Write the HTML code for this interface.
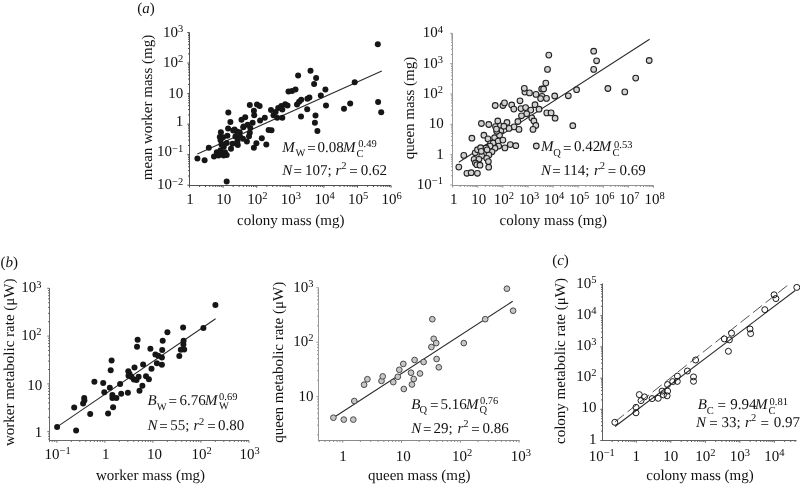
<!DOCTYPE html><html><head><meta charset="utf-8"><style>html,body{margin:0;padding:0;background:#fff;width:800px;height:484px;overflow:hidden}svg{display:block;filter:blur(0.3px)}</style></head><body><svg width="800" height="484" viewBox="0 0 800 484" style="font-family:'Liberation Serif',serif" text-rendering="geometricPrecision" fill="#111">
<rect width="800" height="484" fill="#fff"/>
<line x1="189.5" y1="185.5" x2="189.5" y2="32.5" stroke="#505050" stroke-width="1"/>
<line x1="189.0" y1="185.5" x2="391" y2="185.5" stroke="#505050" stroke-width="1"/>
<line x1="187.30" y1="185.20" x2="189.5" y2="185.20" stroke="#505050" stroke-width="1"/>
<line x1="188.00" y1="176.01" x2="189.5" y2="176.01" stroke="#505050" stroke-width="1"/>
<line x1="188.00" y1="170.63" x2="189.5" y2="170.63" stroke="#505050" stroke-width="1"/>
<line x1="188.00" y1="166.81" x2="189.5" y2="166.81" stroke="#505050" stroke-width="1"/>
<line x1="188.00" y1="163.85" x2="189.5" y2="163.85" stroke="#505050" stroke-width="1"/>
<line x1="188.00" y1="161.44" x2="189.5" y2="161.44" stroke="#505050" stroke-width="1"/>
<line x1="188.00" y1="159.39" x2="189.5" y2="159.39" stroke="#505050" stroke-width="1"/>
<line x1="188.00" y1="157.62" x2="189.5" y2="157.62" stroke="#505050" stroke-width="1"/>
<line x1="188.00" y1="156.06" x2="189.5" y2="156.06" stroke="#505050" stroke-width="1"/>
<line x1="187.30" y1="154.66" x2="189.5" y2="154.66" stroke="#505050" stroke-width="1"/>
<line x1="188.00" y1="145.47" x2="189.5" y2="145.47" stroke="#505050" stroke-width="1"/>
<line x1="188.00" y1="140.09" x2="189.5" y2="140.09" stroke="#505050" stroke-width="1"/>
<line x1="188.00" y1="136.27" x2="189.5" y2="136.27" stroke="#505050" stroke-width="1"/>
<line x1="188.00" y1="133.31" x2="189.5" y2="133.31" stroke="#505050" stroke-width="1"/>
<line x1="188.00" y1="130.90" x2="189.5" y2="130.90" stroke="#505050" stroke-width="1"/>
<line x1="188.00" y1="128.85" x2="189.5" y2="128.85" stroke="#505050" stroke-width="1"/>
<line x1="188.00" y1="127.08" x2="189.5" y2="127.08" stroke="#505050" stroke-width="1"/>
<line x1="188.00" y1="125.52" x2="189.5" y2="125.52" stroke="#505050" stroke-width="1"/>
<line x1="187.30" y1="124.12" x2="189.5" y2="124.12" stroke="#505050" stroke-width="1"/>
<line x1="188.00" y1="114.93" x2="189.5" y2="114.93" stroke="#505050" stroke-width="1"/>
<line x1="188.00" y1="109.55" x2="189.5" y2="109.55" stroke="#505050" stroke-width="1"/>
<line x1="188.00" y1="105.73" x2="189.5" y2="105.73" stroke="#505050" stroke-width="1"/>
<line x1="188.00" y1="102.77" x2="189.5" y2="102.77" stroke="#505050" stroke-width="1"/>
<line x1="188.00" y1="100.36" x2="189.5" y2="100.36" stroke="#505050" stroke-width="1"/>
<line x1="188.00" y1="98.31" x2="189.5" y2="98.31" stroke="#505050" stroke-width="1"/>
<line x1="188.00" y1="96.54" x2="189.5" y2="96.54" stroke="#505050" stroke-width="1"/>
<line x1="188.00" y1="94.98" x2="189.5" y2="94.98" stroke="#505050" stroke-width="1"/>
<line x1="187.30" y1="93.58" x2="189.5" y2="93.58" stroke="#505050" stroke-width="1"/>
<line x1="188.00" y1="84.39" x2="189.5" y2="84.39" stroke="#505050" stroke-width="1"/>
<line x1="188.00" y1="79.01" x2="189.5" y2="79.01" stroke="#505050" stroke-width="1"/>
<line x1="188.00" y1="75.19" x2="189.5" y2="75.19" stroke="#505050" stroke-width="1"/>
<line x1="188.00" y1="72.23" x2="189.5" y2="72.23" stroke="#505050" stroke-width="1"/>
<line x1="188.00" y1="69.82" x2="189.5" y2="69.82" stroke="#505050" stroke-width="1"/>
<line x1="188.00" y1="67.77" x2="189.5" y2="67.77" stroke="#505050" stroke-width="1"/>
<line x1="188.00" y1="66.00" x2="189.5" y2="66.00" stroke="#505050" stroke-width="1"/>
<line x1="188.00" y1="64.44" x2="189.5" y2="64.44" stroke="#505050" stroke-width="1"/>
<line x1="187.30" y1="63.04" x2="189.5" y2="63.04" stroke="#505050" stroke-width="1"/>
<line x1="188.00" y1="53.85" x2="189.5" y2="53.85" stroke="#505050" stroke-width="1"/>
<line x1="188.00" y1="48.47" x2="189.5" y2="48.47" stroke="#505050" stroke-width="1"/>
<line x1="188.00" y1="44.65" x2="189.5" y2="44.65" stroke="#505050" stroke-width="1"/>
<line x1="188.00" y1="41.69" x2="189.5" y2="41.69" stroke="#505050" stroke-width="1"/>
<line x1="188.00" y1="39.28" x2="189.5" y2="39.28" stroke="#505050" stroke-width="1"/>
<line x1="188.00" y1="37.23" x2="189.5" y2="37.23" stroke="#505050" stroke-width="1"/>
<line x1="188.00" y1="35.46" x2="189.5" y2="35.46" stroke="#505050" stroke-width="1"/>
<line x1="188.00" y1="33.90" x2="189.5" y2="33.90" stroke="#505050" stroke-width="1"/>
<line x1="187.30" y1="32.50" x2="189.5" y2="32.50" stroke="#505050" stroke-width="1"/>
<line x1="189.50" y1="185.5" x2="189.50" y2="187.70" stroke="#505050" stroke-width="1"/>
<line x1="199.61" y1="185.5" x2="199.61" y2="187.00" stroke="#505050" stroke-width="1"/>
<line x1="205.53" y1="185.5" x2="205.53" y2="187.00" stroke="#505050" stroke-width="1"/>
<line x1="209.73" y1="185.5" x2="209.73" y2="187.00" stroke="#505050" stroke-width="1"/>
<line x1="212.99" y1="185.5" x2="212.99" y2="187.00" stroke="#505050" stroke-width="1"/>
<line x1="215.65" y1="185.5" x2="215.65" y2="187.00" stroke="#505050" stroke-width="1"/>
<line x1="217.90" y1="185.5" x2="217.90" y2="187.00" stroke="#505050" stroke-width="1"/>
<line x1="219.84" y1="185.5" x2="219.84" y2="187.00" stroke="#505050" stroke-width="1"/>
<line x1="221.56" y1="185.5" x2="221.56" y2="187.00" stroke="#505050" stroke-width="1"/>
<line x1="223.10" y1="185.5" x2="223.10" y2="187.70" stroke="#505050" stroke-width="1"/>
<line x1="233.21" y1="185.5" x2="233.21" y2="187.00" stroke="#505050" stroke-width="1"/>
<line x1="239.13" y1="185.5" x2="239.13" y2="187.00" stroke="#505050" stroke-width="1"/>
<line x1="243.33" y1="185.5" x2="243.33" y2="187.00" stroke="#505050" stroke-width="1"/>
<line x1="246.59" y1="185.5" x2="246.59" y2="187.00" stroke="#505050" stroke-width="1"/>
<line x1="249.25" y1="185.5" x2="249.25" y2="187.00" stroke="#505050" stroke-width="1"/>
<line x1="251.50" y1="185.5" x2="251.50" y2="187.00" stroke="#505050" stroke-width="1"/>
<line x1="253.44" y1="185.5" x2="253.44" y2="187.00" stroke="#505050" stroke-width="1"/>
<line x1="255.16" y1="185.5" x2="255.16" y2="187.00" stroke="#505050" stroke-width="1"/>
<line x1="256.70" y1="185.5" x2="256.70" y2="187.70" stroke="#505050" stroke-width="1"/>
<line x1="266.81" y1="185.5" x2="266.81" y2="187.00" stroke="#505050" stroke-width="1"/>
<line x1="272.73" y1="185.5" x2="272.73" y2="187.00" stroke="#505050" stroke-width="1"/>
<line x1="276.93" y1="185.5" x2="276.93" y2="187.00" stroke="#505050" stroke-width="1"/>
<line x1="280.19" y1="185.5" x2="280.19" y2="187.00" stroke="#505050" stroke-width="1"/>
<line x1="282.85" y1="185.5" x2="282.85" y2="187.00" stroke="#505050" stroke-width="1"/>
<line x1="285.10" y1="185.5" x2="285.10" y2="187.00" stroke="#505050" stroke-width="1"/>
<line x1="287.04" y1="185.5" x2="287.04" y2="187.00" stroke="#505050" stroke-width="1"/>
<line x1="288.76" y1="185.5" x2="288.76" y2="187.00" stroke="#505050" stroke-width="1"/>
<line x1="290.30" y1="185.5" x2="290.30" y2="187.70" stroke="#505050" stroke-width="1"/>
<line x1="300.41" y1="185.5" x2="300.41" y2="187.00" stroke="#505050" stroke-width="1"/>
<line x1="306.33" y1="185.5" x2="306.33" y2="187.00" stroke="#505050" stroke-width="1"/>
<line x1="310.53" y1="185.5" x2="310.53" y2="187.00" stroke="#505050" stroke-width="1"/>
<line x1="313.79" y1="185.5" x2="313.79" y2="187.00" stroke="#505050" stroke-width="1"/>
<line x1="316.45" y1="185.5" x2="316.45" y2="187.00" stroke="#505050" stroke-width="1"/>
<line x1="318.70" y1="185.5" x2="318.70" y2="187.00" stroke="#505050" stroke-width="1"/>
<line x1="320.64" y1="185.5" x2="320.64" y2="187.00" stroke="#505050" stroke-width="1"/>
<line x1="322.36" y1="185.5" x2="322.36" y2="187.00" stroke="#505050" stroke-width="1"/>
<line x1="323.90" y1="185.5" x2="323.90" y2="187.70" stroke="#505050" stroke-width="1"/>
<line x1="334.01" y1="185.5" x2="334.01" y2="187.00" stroke="#505050" stroke-width="1"/>
<line x1="339.93" y1="185.5" x2="339.93" y2="187.00" stroke="#505050" stroke-width="1"/>
<line x1="344.13" y1="185.5" x2="344.13" y2="187.00" stroke="#505050" stroke-width="1"/>
<line x1="347.39" y1="185.5" x2="347.39" y2="187.00" stroke="#505050" stroke-width="1"/>
<line x1="350.05" y1="185.5" x2="350.05" y2="187.00" stroke="#505050" stroke-width="1"/>
<line x1="352.30" y1="185.5" x2="352.30" y2="187.00" stroke="#505050" stroke-width="1"/>
<line x1="354.24" y1="185.5" x2="354.24" y2="187.00" stroke="#505050" stroke-width="1"/>
<line x1="355.96" y1="185.5" x2="355.96" y2="187.00" stroke="#505050" stroke-width="1"/>
<line x1="357.50" y1="185.5" x2="357.50" y2="187.70" stroke="#505050" stroke-width="1"/>
<line x1="367.61" y1="185.5" x2="367.61" y2="187.00" stroke="#505050" stroke-width="1"/>
<line x1="373.53" y1="185.5" x2="373.53" y2="187.00" stroke="#505050" stroke-width="1"/>
<line x1="377.73" y1="185.5" x2="377.73" y2="187.00" stroke="#505050" stroke-width="1"/>
<line x1="380.99" y1="185.5" x2="380.99" y2="187.00" stroke="#505050" stroke-width="1"/>
<line x1="383.65" y1="185.5" x2="383.65" y2="187.00" stroke="#505050" stroke-width="1"/>
<line x1="385.90" y1="185.5" x2="385.90" y2="187.00" stroke="#505050" stroke-width="1"/>
<line x1="387.84" y1="185.5" x2="387.84" y2="187.00" stroke="#505050" stroke-width="1"/>
<line x1="389.56" y1="185.5" x2="389.56" y2="187.00" stroke="#505050" stroke-width="1"/>
<line x1="391.10" y1="185.5" x2="391.10" y2="187.70" stroke="#505050" stroke-width="1"/>
<line x1="452.5" y1="185.5" x2="452.5" y2="33.3" stroke="#999999" stroke-width="1"/>
<line x1="452.0" y1="185.5" x2="653.5" y2="185.5" stroke="#939393" stroke-width="1"/>
<line x1="450.30" y1="185.00" x2="452.5" y2="185.00" stroke="#999999" stroke-width="1"/>
<line x1="451.00" y1="175.87" x2="452.5" y2="175.87" stroke="#999999" stroke-width="1"/>
<line x1="451.00" y1="170.52" x2="452.5" y2="170.52" stroke="#999999" stroke-width="1"/>
<line x1="451.00" y1="166.73" x2="452.5" y2="166.73" stroke="#999999" stroke-width="1"/>
<line x1="451.00" y1="163.79" x2="452.5" y2="163.79" stroke="#999999" stroke-width="1"/>
<line x1="451.00" y1="161.39" x2="452.5" y2="161.39" stroke="#999999" stroke-width="1"/>
<line x1="451.00" y1="159.36" x2="452.5" y2="159.36" stroke="#999999" stroke-width="1"/>
<line x1="451.00" y1="157.60" x2="452.5" y2="157.60" stroke="#999999" stroke-width="1"/>
<line x1="451.00" y1="156.05" x2="452.5" y2="156.05" stroke="#999999" stroke-width="1"/>
<line x1="450.30" y1="154.66" x2="452.5" y2="154.66" stroke="#999999" stroke-width="1"/>
<line x1="451.00" y1="145.53" x2="452.5" y2="145.53" stroke="#999999" stroke-width="1"/>
<line x1="451.00" y1="140.18" x2="452.5" y2="140.18" stroke="#999999" stroke-width="1"/>
<line x1="451.00" y1="136.39" x2="452.5" y2="136.39" stroke="#999999" stroke-width="1"/>
<line x1="451.00" y1="133.45" x2="452.5" y2="133.45" stroke="#999999" stroke-width="1"/>
<line x1="451.00" y1="131.05" x2="452.5" y2="131.05" stroke="#999999" stroke-width="1"/>
<line x1="451.00" y1="129.02" x2="452.5" y2="129.02" stroke="#999999" stroke-width="1"/>
<line x1="451.00" y1="127.26" x2="452.5" y2="127.26" stroke="#999999" stroke-width="1"/>
<line x1="451.00" y1="125.71" x2="452.5" y2="125.71" stroke="#999999" stroke-width="1"/>
<line x1="450.30" y1="124.32" x2="452.5" y2="124.32" stroke="#999999" stroke-width="1"/>
<line x1="451.00" y1="115.19" x2="452.5" y2="115.19" stroke="#999999" stroke-width="1"/>
<line x1="451.00" y1="109.84" x2="452.5" y2="109.84" stroke="#999999" stroke-width="1"/>
<line x1="451.00" y1="106.05" x2="452.5" y2="106.05" stroke="#999999" stroke-width="1"/>
<line x1="451.00" y1="103.11" x2="452.5" y2="103.11" stroke="#999999" stroke-width="1"/>
<line x1="451.00" y1="100.71" x2="452.5" y2="100.71" stroke="#999999" stroke-width="1"/>
<line x1="451.00" y1="98.68" x2="452.5" y2="98.68" stroke="#999999" stroke-width="1"/>
<line x1="451.00" y1="96.92" x2="452.5" y2="96.92" stroke="#999999" stroke-width="1"/>
<line x1="451.00" y1="95.37" x2="452.5" y2="95.37" stroke="#999999" stroke-width="1"/>
<line x1="450.30" y1="93.98" x2="452.5" y2="93.98" stroke="#999999" stroke-width="1"/>
<line x1="451.00" y1="84.85" x2="452.5" y2="84.85" stroke="#999999" stroke-width="1"/>
<line x1="451.00" y1="79.50" x2="452.5" y2="79.50" stroke="#999999" stroke-width="1"/>
<line x1="451.00" y1="75.71" x2="452.5" y2="75.71" stroke="#999999" stroke-width="1"/>
<line x1="451.00" y1="72.77" x2="452.5" y2="72.77" stroke="#999999" stroke-width="1"/>
<line x1="451.00" y1="70.37" x2="452.5" y2="70.37" stroke="#999999" stroke-width="1"/>
<line x1="451.00" y1="68.34" x2="452.5" y2="68.34" stroke="#999999" stroke-width="1"/>
<line x1="451.00" y1="66.58" x2="452.5" y2="66.58" stroke="#999999" stroke-width="1"/>
<line x1="451.00" y1="65.03" x2="452.5" y2="65.03" stroke="#999999" stroke-width="1"/>
<line x1="450.30" y1="63.64" x2="452.5" y2="63.64" stroke="#999999" stroke-width="1"/>
<line x1="451.00" y1="54.51" x2="452.5" y2="54.51" stroke="#999999" stroke-width="1"/>
<line x1="451.00" y1="49.16" x2="452.5" y2="49.16" stroke="#999999" stroke-width="1"/>
<line x1="451.00" y1="45.37" x2="452.5" y2="45.37" stroke="#999999" stroke-width="1"/>
<line x1="451.00" y1="42.43" x2="452.5" y2="42.43" stroke="#999999" stroke-width="1"/>
<line x1="451.00" y1="40.03" x2="452.5" y2="40.03" stroke="#999999" stroke-width="1"/>
<line x1="451.00" y1="38.00" x2="452.5" y2="38.00" stroke="#999999" stroke-width="1"/>
<line x1="451.00" y1="36.24" x2="452.5" y2="36.24" stroke="#999999" stroke-width="1"/>
<line x1="451.00" y1="34.69" x2="452.5" y2="34.69" stroke="#999999" stroke-width="1"/>
<line x1="450.30" y1="33.30" x2="452.5" y2="33.30" stroke="#999999" stroke-width="1"/>
<line x1="452.70" y1="185.5" x2="452.70" y2="187.70" stroke="#939393" stroke-width="1"/>
<line x1="460.26" y1="185.5" x2="460.26" y2="187.00" stroke="#939393" stroke-width="1"/>
<line x1="464.68" y1="185.5" x2="464.68" y2="187.00" stroke="#939393" stroke-width="1"/>
<line x1="467.81" y1="185.5" x2="467.81" y2="187.00" stroke="#939393" stroke-width="1"/>
<line x1="470.24" y1="185.5" x2="470.24" y2="187.00" stroke="#939393" stroke-width="1"/>
<line x1="472.23" y1="185.5" x2="472.23" y2="187.00" stroke="#939393" stroke-width="1"/>
<line x1="473.91" y1="185.5" x2="473.91" y2="187.00" stroke="#939393" stroke-width="1"/>
<line x1="475.37" y1="185.5" x2="475.37" y2="187.00" stroke="#939393" stroke-width="1"/>
<line x1="476.65" y1="185.5" x2="476.65" y2="187.00" stroke="#939393" stroke-width="1"/>
<line x1="477.80" y1="185.5" x2="477.80" y2="187.70" stroke="#939393" stroke-width="1"/>
<line x1="485.36" y1="185.5" x2="485.36" y2="187.00" stroke="#939393" stroke-width="1"/>
<line x1="489.78" y1="185.5" x2="489.78" y2="187.00" stroke="#939393" stroke-width="1"/>
<line x1="492.91" y1="185.5" x2="492.91" y2="187.00" stroke="#939393" stroke-width="1"/>
<line x1="495.34" y1="185.5" x2="495.34" y2="187.00" stroke="#939393" stroke-width="1"/>
<line x1="497.33" y1="185.5" x2="497.33" y2="187.00" stroke="#939393" stroke-width="1"/>
<line x1="499.01" y1="185.5" x2="499.01" y2="187.00" stroke="#939393" stroke-width="1"/>
<line x1="500.47" y1="185.5" x2="500.47" y2="187.00" stroke="#939393" stroke-width="1"/>
<line x1="501.75" y1="185.5" x2="501.75" y2="187.00" stroke="#939393" stroke-width="1"/>
<line x1="502.90" y1="185.5" x2="502.90" y2="187.70" stroke="#939393" stroke-width="1"/>
<line x1="510.46" y1="185.5" x2="510.46" y2="187.00" stroke="#939393" stroke-width="1"/>
<line x1="514.88" y1="185.5" x2="514.88" y2="187.00" stroke="#939393" stroke-width="1"/>
<line x1="518.01" y1="185.5" x2="518.01" y2="187.00" stroke="#939393" stroke-width="1"/>
<line x1="520.44" y1="185.5" x2="520.44" y2="187.00" stroke="#939393" stroke-width="1"/>
<line x1="522.43" y1="185.5" x2="522.43" y2="187.00" stroke="#939393" stroke-width="1"/>
<line x1="524.11" y1="185.5" x2="524.11" y2="187.00" stroke="#939393" stroke-width="1"/>
<line x1="525.57" y1="185.5" x2="525.57" y2="187.00" stroke="#939393" stroke-width="1"/>
<line x1="526.85" y1="185.5" x2="526.85" y2="187.00" stroke="#939393" stroke-width="1"/>
<line x1="528.00" y1="185.5" x2="528.00" y2="187.70" stroke="#939393" stroke-width="1"/>
<line x1="535.56" y1="185.5" x2="535.56" y2="187.00" stroke="#939393" stroke-width="1"/>
<line x1="539.98" y1="185.5" x2="539.98" y2="187.00" stroke="#939393" stroke-width="1"/>
<line x1="543.11" y1="185.5" x2="543.11" y2="187.00" stroke="#939393" stroke-width="1"/>
<line x1="545.54" y1="185.5" x2="545.54" y2="187.00" stroke="#939393" stroke-width="1"/>
<line x1="547.53" y1="185.5" x2="547.53" y2="187.00" stroke="#939393" stroke-width="1"/>
<line x1="549.21" y1="185.5" x2="549.21" y2="187.00" stroke="#939393" stroke-width="1"/>
<line x1="550.67" y1="185.5" x2="550.67" y2="187.00" stroke="#939393" stroke-width="1"/>
<line x1="551.95" y1="185.5" x2="551.95" y2="187.00" stroke="#939393" stroke-width="1"/>
<line x1="553.10" y1="185.5" x2="553.10" y2="187.70" stroke="#939393" stroke-width="1"/>
<line x1="560.66" y1="185.5" x2="560.66" y2="187.00" stroke="#939393" stroke-width="1"/>
<line x1="565.08" y1="185.5" x2="565.08" y2="187.00" stroke="#939393" stroke-width="1"/>
<line x1="568.21" y1="185.5" x2="568.21" y2="187.00" stroke="#939393" stroke-width="1"/>
<line x1="570.64" y1="185.5" x2="570.64" y2="187.00" stroke="#939393" stroke-width="1"/>
<line x1="572.63" y1="185.5" x2="572.63" y2="187.00" stroke="#939393" stroke-width="1"/>
<line x1="574.31" y1="185.5" x2="574.31" y2="187.00" stroke="#939393" stroke-width="1"/>
<line x1="575.77" y1="185.5" x2="575.77" y2="187.00" stroke="#939393" stroke-width="1"/>
<line x1="577.05" y1="185.5" x2="577.05" y2="187.00" stroke="#939393" stroke-width="1"/>
<line x1="578.20" y1="185.5" x2="578.20" y2="187.70" stroke="#939393" stroke-width="1"/>
<line x1="585.76" y1="185.5" x2="585.76" y2="187.00" stroke="#939393" stroke-width="1"/>
<line x1="590.18" y1="185.5" x2="590.18" y2="187.00" stroke="#939393" stroke-width="1"/>
<line x1="593.31" y1="185.5" x2="593.31" y2="187.00" stroke="#939393" stroke-width="1"/>
<line x1="595.74" y1="185.5" x2="595.74" y2="187.00" stroke="#939393" stroke-width="1"/>
<line x1="597.73" y1="185.5" x2="597.73" y2="187.00" stroke="#939393" stroke-width="1"/>
<line x1="599.41" y1="185.5" x2="599.41" y2="187.00" stroke="#939393" stroke-width="1"/>
<line x1="600.87" y1="185.5" x2="600.87" y2="187.00" stroke="#939393" stroke-width="1"/>
<line x1="602.15" y1="185.5" x2="602.15" y2="187.00" stroke="#939393" stroke-width="1"/>
<line x1="603.30" y1="185.5" x2="603.30" y2="187.70" stroke="#939393" stroke-width="1"/>
<line x1="610.86" y1="185.5" x2="610.86" y2="187.00" stroke="#939393" stroke-width="1"/>
<line x1="615.28" y1="185.5" x2="615.28" y2="187.00" stroke="#939393" stroke-width="1"/>
<line x1="618.41" y1="185.5" x2="618.41" y2="187.00" stroke="#939393" stroke-width="1"/>
<line x1="620.84" y1="185.5" x2="620.84" y2="187.00" stroke="#939393" stroke-width="1"/>
<line x1="622.83" y1="185.5" x2="622.83" y2="187.00" stroke="#939393" stroke-width="1"/>
<line x1="624.51" y1="185.5" x2="624.51" y2="187.00" stroke="#939393" stroke-width="1"/>
<line x1="625.97" y1="185.5" x2="625.97" y2="187.00" stroke="#939393" stroke-width="1"/>
<line x1="627.25" y1="185.5" x2="627.25" y2="187.00" stroke="#939393" stroke-width="1"/>
<line x1="628.40" y1="185.5" x2="628.40" y2="187.70" stroke="#939393" stroke-width="1"/>
<line x1="635.96" y1="185.5" x2="635.96" y2="187.00" stroke="#939393" stroke-width="1"/>
<line x1="640.38" y1="185.5" x2="640.38" y2="187.00" stroke="#939393" stroke-width="1"/>
<line x1="643.51" y1="185.5" x2="643.51" y2="187.00" stroke="#939393" stroke-width="1"/>
<line x1="645.94" y1="185.5" x2="645.94" y2="187.00" stroke="#939393" stroke-width="1"/>
<line x1="647.93" y1="185.5" x2="647.93" y2="187.00" stroke="#939393" stroke-width="1"/>
<line x1="649.61" y1="185.5" x2="649.61" y2="187.00" stroke="#939393" stroke-width="1"/>
<line x1="651.07" y1="185.5" x2="651.07" y2="187.00" stroke="#939393" stroke-width="1"/>
<line x1="652.35" y1="185.5" x2="652.35" y2="187.00" stroke="#939393" stroke-width="1"/>
<line x1="653.50" y1="185.5" x2="653.50" y2="187.70" stroke="#939393" stroke-width="1"/>
<line x1="49.5" y1="440.5" x2="49.5" y2="288.1" stroke="#6a6a6a" stroke-width="1"/>
<line x1="49.0" y1="440.5" x2="249.0" y2="440.5" stroke="#6a6a6a" stroke-width="1"/>
<line x1="48.00" y1="439.10" x2="49.5" y2="439.10" stroke="#6a6a6a" stroke-width="1"/>
<line x1="48.00" y1="436.33" x2="49.5" y2="436.33" stroke="#6a6a6a" stroke-width="1"/>
<line x1="48.00" y1="433.89" x2="49.5" y2="433.89" stroke="#6a6a6a" stroke-width="1"/>
<line x1="47.30" y1="431.70" x2="49.5" y2="431.70" stroke="#6a6a6a" stroke-width="1"/>
<line x1="48.00" y1="417.31" x2="49.5" y2="417.31" stroke="#6a6a6a" stroke-width="1"/>
<line x1="48.00" y1="408.89" x2="49.5" y2="408.89" stroke="#6a6a6a" stroke-width="1"/>
<line x1="48.00" y1="402.92" x2="49.5" y2="402.92" stroke="#6a6a6a" stroke-width="1"/>
<line x1="48.00" y1="398.29" x2="49.5" y2="398.29" stroke="#6a6a6a" stroke-width="1"/>
<line x1="48.00" y1="394.50" x2="49.5" y2="394.50" stroke="#6a6a6a" stroke-width="1"/>
<line x1="48.00" y1="391.30" x2="49.5" y2="391.30" stroke="#6a6a6a" stroke-width="1"/>
<line x1="48.00" y1="388.53" x2="49.5" y2="388.53" stroke="#6a6a6a" stroke-width="1"/>
<line x1="48.00" y1="386.09" x2="49.5" y2="386.09" stroke="#6a6a6a" stroke-width="1"/>
<line x1="47.30" y1="383.90" x2="49.5" y2="383.90" stroke="#6a6a6a" stroke-width="1"/>
<line x1="48.00" y1="369.51" x2="49.5" y2="369.51" stroke="#6a6a6a" stroke-width="1"/>
<line x1="48.00" y1="361.09" x2="49.5" y2="361.09" stroke="#6a6a6a" stroke-width="1"/>
<line x1="48.00" y1="355.12" x2="49.5" y2="355.12" stroke="#6a6a6a" stroke-width="1"/>
<line x1="48.00" y1="350.49" x2="49.5" y2="350.49" stroke="#6a6a6a" stroke-width="1"/>
<line x1="48.00" y1="346.70" x2="49.5" y2="346.70" stroke="#6a6a6a" stroke-width="1"/>
<line x1="48.00" y1="343.50" x2="49.5" y2="343.50" stroke="#6a6a6a" stroke-width="1"/>
<line x1="48.00" y1="340.73" x2="49.5" y2="340.73" stroke="#6a6a6a" stroke-width="1"/>
<line x1="48.00" y1="338.29" x2="49.5" y2="338.29" stroke="#6a6a6a" stroke-width="1"/>
<line x1="47.30" y1="336.10" x2="49.5" y2="336.10" stroke="#6a6a6a" stroke-width="1"/>
<line x1="48.00" y1="321.71" x2="49.5" y2="321.71" stroke="#6a6a6a" stroke-width="1"/>
<line x1="48.00" y1="313.29" x2="49.5" y2="313.29" stroke="#6a6a6a" stroke-width="1"/>
<line x1="48.00" y1="307.32" x2="49.5" y2="307.32" stroke="#6a6a6a" stroke-width="1"/>
<line x1="48.00" y1="302.69" x2="49.5" y2="302.69" stroke="#6a6a6a" stroke-width="1"/>
<line x1="48.00" y1="298.90" x2="49.5" y2="298.90" stroke="#6a6a6a" stroke-width="1"/>
<line x1="48.00" y1="295.70" x2="49.5" y2="295.70" stroke="#6a6a6a" stroke-width="1"/>
<line x1="48.00" y1="292.93" x2="49.5" y2="292.93" stroke="#6a6a6a" stroke-width="1"/>
<line x1="48.00" y1="290.49" x2="49.5" y2="290.49" stroke="#6a6a6a" stroke-width="1"/>
<line x1="47.30" y1="288.30" x2="49.5" y2="288.30" stroke="#6a6a6a" stroke-width="1"/>
<line x1="49.46" y1="440.5" x2="49.46" y2="442.00" stroke="#6a6a6a" stroke-width="1"/>
<line x1="52.25" y1="440.5" x2="52.25" y2="442.00" stroke="#6a6a6a" stroke-width="1"/>
<line x1="54.70" y1="440.5" x2="54.70" y2="442.00" stroke="#6a6a6a" stroke-width="1"/>
<line x1="56.90" y1="440.5" x2="56.90" y2="442.70" stroke="#6a6a6a" stroke-width="1"/>
<line x1="71.35" y1="440.5" x2="71.35" y2="442.00" stroke="#6a6a6a" stroke-width="1"/>
<line x1="79.80" y1="440.5" x2="79.80" y2="442.00" stroke="#6a6a6a" stroke-width="1"/>
<line x1="85.80" y1="440.5" x2="85.80" y2="442.00" stroke="#6a6a6a" stroke-width="1"/>
<line x1="90.45" y1="440.5" x2="90.45" y2="442.00" stroke="#6a6a6a" stroke-width="1"/>
<line x1="94.25" y1="440.5" x2="94.25" y2="442.00" stroke="#6a6a6a" stroke-width="1"/>
<line x1="97.46" y1="440.5" x2="97.46" y2="442.00" stroke="#6a6a6a" stroke-width="1"/>
<line x1="100.25" y1="440.5" x2="100.25" y2="442.00" stroke="#6a6a6a" stroke-width="1"/>
<line x1="102.70" y1="440.5" x2="102.70" y2="442.00" stroke="#6a6a6a" stroke-width="1"/>
<line x1="104.90" y1="440.5" x2="104.90" y2="442.70" stroke="#6a6a6a" stroke-width="1"/>
<line x1="119.35" y1="440.5" x2="119.35" y2="442.00" stroke="#6a6a6a" stroke-width="1"/>
<line x1="127.80" y1="440.5" x2="127.80" y2="442.00" stroke="#6a6a6a" stroke-width="1"/>
<line x1="133.80" y1="440.5" x2="133.80" y2="442.00" stroke="#6a6a6a" stroke-width="1"/>
<line x1="138.45" y1="440.5" x2="138.45" y2="442.00" stroke="#6a6a6a" stroke-width="1"/>
<line x1="142.25" y1="440.5" x2="142.25" y2="442.00" stroke="#6a6a6a" stroke-width="1"/>
<line x1="145.46" y1="440.5" x2="145.46" y2="442.00" stroke="#6a6a6a" stroke-width="1"/>
<line x1="148.25" y1="440.5" x2="148.25" y2="442.00" stroke="#6a6a6a" stroke-width="1"/>
<line x1="150.70" y1="440.5" x2="150.70" y2="442.00" stroke="#6a6a6a" stroke-width="1"/>
<line x1="152.90" y1="440.5" x2="152.90" y2="442.70" stroke="#6a6a6a" stroke-width="1"/>
<line x1="167.35" y1="440.5" x2="167.35" y2="442.00" stroke="#6a6a6a" stroke-width="1"/>
<line x1="175.80" y1="440.5" x2="175.80" y2="442.00" stroke="#6a6a6a" stroke-width="1"/>
<line x1="181.80" y1="440.5" x2="181.80" y2="442.00" stroke="#6a6a6a" stroke-width="1"/>
<line x1="186.45" y1="440.5" x2="186.45" y2="442.00" stroke="#6a6a6a" stroke-width="1"/>
<line x1="190.25" y1="440.5" x2="190.25" y2="442.00" stroke="#6a6a6a" stroke-width="1"/>
<line x1="193.46" y1="440.5" x2="193.46" y2="442.00" stroke="#6a6a6a" stroke-width="1"/>
<line x1="196.25" y1="440.5" x2="196.25" y2="442.00" stroke="#6a6a6a" stroke-width="1"/>
<line x1="198.70" y1="440.5" x2="198.70" y2="442.00" stroke="#6a6a6a" stroke-width="1"/>
<line x1="200.90" y1="440.5" x2="200.90" y2="442.70" stroke="#6a6a6a" stroke-width="1"/>
<line x1="215.35" y1="440.5" x2="215.35" y2="442.00" stroke="#6a6a6a" stroke-width="1"/>
<line x1="223.80" y1="440.5" x2="223.80" y2="442.00" stroke="#6a6a6a" stroke-width="1"/>
<line x1="229.80" y1="440.5" x2="229.80" y2="442.00" stroke="#6a6a6a" stroke-width="1"/>
<line x1="234.45" y1="440.5" x2="234.45" y2="442.00" stroke="#6a6a6a" stroke-width="1"/>
<line x1="238.25" y1="440.5" x2="238.25" y2="442.00" stroke="#6a6a6a" stroke-width="1"/>
<line x1="241.46" y1="440.5" x2="241.46" y2="442.00" stroke="#6a6a6a" stroke-width="1"/>
<line x1="244.25" y1="440.5" x2="244.25" y2="442.00" stroke="#6a6a6a" stroke-width="1"/>
<line x1="246.70" y1="440.5" x2="246.70" y2="442.00" stroke="#6a6a6a" stroke-width="1"/>
<line x1="248.90" y1="440.5" x2="248.90" y2="442.70" stroke="#6a6a6a" stroke-width="1"/>
<line x1="318.5" y1="440.5" x2="318.5" y2="287.7" stroke="#9a9a9a" stroke-width="1"/>
<line x1="318.0" y1="440.5" x2="519.6" y2="440.5" stroke="#8a8a8a" stroke-width="1"/>
<line x1="317.00" y1="434.79" x2="318.5" y2="434.79" stroke="#9a9a9a" stroke-width="1"/>
<line x1="317.00" y1="425.20" x2="318.5" y2="425.20" stroke="#9a9a9a" stroke-width="1"/>
<line x1="317.00" y1="418.39" x2="318.5" y2="418.39" stroke="#9a9a9a" stroke-width="1"/>
<line x1="317.00" y1="413.11" x2="318.5" y2="413.11" stroke="#9a9a9a" stroke-width="1"/>
<line x1="317.00" y1="408.79" x2="318.5" y2="408.79" stroke="#9a9a9a" stroke-width="1"/>
<line x1="317.00" y1="405.14" x2="318.5" y2="405.14" stroke="#9a9a9a" stroke-width="1"/>
<line x1="317.00" y1="401.98" x2="318.5" y2="401.98" stroke="#9a9a9a" stroke-width="1"/>
<line x1="317.00" y1="399.19" x2="318.5" y2="399.19" stroke="#9a9a9a" stroke-width="1"/>
<line x1="316.30" y1="396.70" x2="318.5" y2="396.70" stroke="#9a9a9a" stroke-width="1"/>
<line x1="317.00" y1="380.29" x2="318.5" y2="380.29" stroke="#9a9a9a" stroke-width="1"/>
<line x1="317.00" y1="370.70" x2="318.5" y2="370.70" stroke="#9a9a9a" stroke-width="1"/>
<line x1="317.00" y1="363.89" x2="318.5" y2="363.89" stroke="#9a9a9a" stroke-width="1"/>
<line x1="317.00" y1="358.61" x2="318.5" y2="358.61" stroke="#9a9a9a" stroke-width="1"/>
<line x1="317.00" y1="354.29" x2="318.5" y2="354.29" stroke="#9a9a9a" stroke-width="1"/>
<line x1="317.00" y1="350.64" x2="318.5" y2="350.64" stroke="#9a9a9a" stroke-width="1"/>
<line x1="317.00" y1="347.48" x2="318.5" y2="347.48" stroke="#9a9a9a" stroke-width="1"/>
<line x1="317.00" y1="344.69" x2="318.5" y2="344.69" stroke="#9a9a9a" stroke-width="1"/>
<line x1="316.30" y1="342.20" x2="318.5" y2="342.20" stroke="#9a9a9a" stroke-width="1"/>
<line x1="317.00" y1="325.79" x2="318.5" y2="325.79" stroke="#9a9a9a" stroke-width="1"/>
<line x1="317.00" y1="316.20" x2="318.5" y2="316.20" stroke="#9a9a9a" stroke-width="1"/>
<line x1="317.00" y1="309.39" x2="318.5" y2="309.39" stroke="#9a9a9a" stroke-width="1"/>
<line x1="317.00" y1="304.11" x2="318.5" y2="304.11" stroke="#9a9a9a" stroke-width="1"/>
<line x1="317.00" y1="299.79" x2="318.5" y2="299.79" stroke="#9a9a9a" stroke-width="1"/>
<line x1="317.00" y1="296.14" x2="318.5" y2="296.14" stroke="#9a9a9a" stroke-width="1"/>
<line x1="317.00" y1="292.98" x2="318.5" y2="292.98" stroke="#9a9a9a" stroke-width="1"/>
<line x1="317.00" y1="290.19" x2="318.5" y2="290.19" stroke="#9a9a9a" stroke-width="1"/>
<line x1="316.30" y1="287.70" x2="318.5" y2="287.70" stroke="#9a9a9a" stroke-width="1"/>
<line x1="319.30" y1="440.5" x2="319.30" y2="442.00" stroke="#8a8a8a" stroke-width="1"/>
<line x1="325.00" y1="440.5" x2="325.00" y2="442.00" stroke="#8a8a8a" stroke-width="1"/>
<line x1="329.66" y1="440.5" x2="329.66" y2="442.00" stroke="#8a8a8a" stroke-width="1"/>
<line x1="333.59" y1="440.5" x2="333.59" y2="442.00" stroke="#8a8a8a" stroke-width="1"/>
<line x1="337.00" y1="440.5" x2="337.00" y2="442.00" stroke="#8a8a8a" stroke-width="1"/>
<line x1="340.01" y1="440.5" x2="340.01" y2="442.00" stroke="#8a8a8a" stroke-width="1"/>
<line x1="342.70" y1="440.5" x2="342.70" y2="442.70" stroke="#8a8a8a" stroke-width="1"/>
<line x1="360.40" y1="440.5" x2="360.40" y2="442.00" stroke="#8a8a8a" stroke-width="1"/>
<line x1="370.75" y1="440.5" x2="370.75" y2="442.00" stroke="#8a8a8a" stroke-width="1"/>
<line x1="378.10" y1="440.5" x2="378.10" y2="442.00" stroke="#8a8a8a" stroke-width="1"/>
<line x1="383.80" y1="440.5" x2="383.80" y2="442.00" stroke="#8a8a8a" stroke-width="1"/>
<line x1="388.46" y1="440.5" x2="388.46" y2="442.00" stroke="#8a8a8a" stroke-width="1"/>
<line x1="392.39" y1="440.5" x2="392.39" y2="442.00" stroke="#8a8a8a" stroke-width="1"/>
<line x1="395.80" y1="440.5" x2="395.80" y2="442.00" stroke="#8a8a8a" stroke-width="1"/>
<line x1="398.81" y1="440.5" x2="398.81" y2="442.00" stroke="#8a8a8a" stroke-width="1"/>
<line x1="401.50" y1="440.5" x2="401.50" y2="442.70" stroke="#8a8a8a" stroke-width="1"/>
<line x1="419.20" y1="440.5" x2="419.20" y2="442.00" stroke="#8a8a8a" stroke-width="1"/>
<line x1="429.55" y1="440.5" x2="429.55" y2="442.00" stroke="#8a8a8a" stroke-width="1"/>
<line x1="436.90" y1="440.5" x2="436.90" y2="442.00" stroke="#8a8a8a" stroke-width="1"/>
<line x1="442.60" y1="440.5" x2="442.60" y2="442.00" stroke="#8a8a8a" stroke-width="1"/>
<line x1="447.26" y1="440.5" x2="447.26" y2="442.00" stroke="#8a8a8a" stroke-width="1"/>
<line x1="451.19" y1="440.5" x2="451.19" y2="442.00" stroke="#8a8a8a" stroke-width="1"/>
<line x1="454.60" y1="440.5" x2="454.60" y2="442.00" stroke="#8a8a8a" stroke-width="1"/>
<line x1="457.61" y1="440.5" x2="457.61" y2="442.00" stroke="#8a8a8a" stroke-width="1"/>
<line x1="460.30" y1="440.5" x2="460.30" y2="442.70" stroke="#8a8a8a" stroke-width="1"/>
<line x1="478.00" y1="440.5" x2="478.00" y2="442.00" stroke="#8a8a8a" stroke-width="1"/>
<line x1="488.35" y1="440.5" x2="488.35" y2="442.00" stroke="#8a8a8a" stroke-width="1"/>
<line x1="495.70" y1="440.5" x2="495.70" y2="442.00" stroke="#8a8a8a" stroke-width="1"/>
<line x1="501.40" y1="440.5" x2="501.40" y2="442.00" stroke="#8a8a8a" stroke-width="1"/>
<line x1="506.06" y1="440.5" x2="506.06" y2="442.00" stroke="#8a8a8a" stroke-width="1"/>
<line x1="509.99" y1="440.5" x2="509.99" y2="442.00" stroke="#8a8a8a" stroke-width="1"/>
<line x1="513.40" y1="440.5" x2="513.40" y2="442.00" stroke="#8a8a8a" stroke-width="1"/>
<line x1="516.41" y1="440.5" x2="516.41" y2="442.00" stroke="#8a8a8a" stroke-width="1"/>
<line x1="519.10" y1="440.5" x2="519.10" y2="442.70" stroke="#8a8a8a" stroke-width="1"/>
<line x1="602.5" y1="440.5" x2="602.5" y2="283.4" stroke="#606060" stroke-width="1"/>
<line x1="602.0" y1="440.5" x2="796.5" y2="440.5" stroke="#606060" stroke-width="1"/>
<line x1="600.30" y1="440.50" x2="602.5" y2="440.50" stroke="#606060" stroke-width="1"/>
<line x1="601.00" y1="431.11" x2="602.5" y2="431.11" stroke="#606060" stroke-width="1"/>
<line x1="601.00" y1="425.61" x2="602.5" y2="425.61" stroke="#606060" stroke-width="1"/>
<line x1="601.00" y1="421.72" x2="602.5" y2="421.72" stroke="#606060" stroke-width="1"/>
<line x1="601.00" y1="418.69" x2="602.5" y2="418.69" stroke="#606060" stroke-width="1"/>
<line x1="601.00" y1="416.22" x2="602.5" y2="416.22" stroke="#606060" stroke-width="1"/>
<line x1="601.00" y1="414.13" x2="602.5" y2="414.13" stroke="#606060" stroke-width="1"/>
<line x1="601.00" y1="412.32" x2="602.5" y2="412.32" stroke="#606060" stroke-width="1"/>
<line x1="601.00" y1="410.73" x2="602.5" y2="410.73" stroke="#606060" stroke-width="1"/>
<line x1="600.30" y1="409.30" x2="602.5" y2="409.30" stroke="#606060" stroke-width="1"/>
<line x1="601.00" y1="399.91" x2="602.5" y2="399.91" stroke="#606060" stroke-width="1"/>
<line x1="601.00" y1="394.41" x2="602.5" y2="394.41" stroke="#606060" stroke-width="1"/>
<line x1="601.00" y1="390.52" x2="602.5" y2="390.52" stroke="#606060" stroke-width="1"/>
<line x1="601.00" y1="387.49" x2="602.5" y2="387.49" stroke="#606060" stroke-width="1"/>
<line x1="601.00" y1="385.02" x2="602.5" y2="385.02" stroke="#606060" stroke-width="1"/>
<line x1="601.00" y1="382.93" x2="602.5" y2="382.93" stroke="#606060" stroke-width="1"/>
<line x1="601.00" y1="381.12" x2="602.5" y2="381.12" stroke="#606060" stroke-width="1"/>
<line x1="601.00" y1="379.53" x2="602.5" y2="379.53" stroke="#606060" stroke-width="1"/>
<line x1="600.30" y1="378.10" x2="602.5" y2="378.10" stroke="#606060" stroke-width="1"/>
<line x1="601.00" y1="368.71" x2="602.5" y2="368.71" stroke="#606060" stroke-width="1"/>
<line x1="601.00" y1="363.21" x2="602.5" y2="363.21" stroke="#606060" stroke-width="1"/>
<line x1="601.00" y1="359.32" x2="602.5" y2="359.32" stroke="#606060" stroke-width="1"/>
<line x1="601.00" y1="356.29" x2="602.5" y2="356.29" stroke="#606060" stroke-width="1"/>
<line x1="601.00" y1="353.82" x2="602.5" y2="353.82" stroke="#606060" stroke-width="1"/>
<line x1="601.00" y1="351.73" x2="602.5" y2="351.73" stroke="#606060" stroke-width="1"/>
<line x1="601.00" y1="349.92" x2="602.5" y2="349.92" stroke="#606060" stroke-width="1"/>
<line x1="601.00" y1="348.33" x2="602.5" y2="348.33" stroke="#606060" stroke-width="1"/>
<line x1="600.30" y1="346.90" x2="602.5" y2="346.90" stroke="#606060" stroke-width="1"/>
<line x1="601.00" y1="337.51" x2="602.5" y2="337.51" stroke="#606060" stroke-width="1"/>
<line x1="601.00" y1="332.01" x2="602.5" y2="332.01" stroke="#606060" stroke-width="1"/>
<line x1="601.00" y1="328.12" x2="602.5" y2="328.12" stroke="#606060" stroke-width="1"/>
<line x1="601.00" y1="325.09" x2="602.5" y2="325.09" stroke="#606060" stroke-width="1"/>
<line x1="601.00" y1="322.62" x2="602.5" y2="322.62" stroke="#606060" stroke-width="1"/>
<line x1="601.00" y1="320.53" x2="602.5" y2="320.53" stroke="#606060" stroke-width="1"/>
<line x1="601.00" y1="318.72" x2="602.5" y2="318.72" stroke="#606060" stroke-width="1"/>
<line x1="601.00" y1="317.13" x2="602.5" y2="317.13" stroke="#606060" stroke-width="1"/>
<line x1="600.30" y1="315.70" x2="602.5" y2="315.70" stroke="#606060" stroke-width="1"/>
<line x1="601.00" y1="306.31" x2="602.5" y2="306.31" stroke="#606060" stroke-width="1"/>
<line x1="601.00" y1="300.81" x2="602.5" y2="300.81" stroke="#606060" stroke-width="1"/>
<line x1="601.00" y1="296.92" x2="602.5" y2="296.92" stroke="#606060" stroke-width="1"/>
<line x1="601.00" y1="293.89" x2="602.5" y2="293.89" stroke="#606060" stroke-width="1"/>
<line x1="601.00" y1="291.42" x2="602.5" y2="291.42" stroke="#606060" stroke-width="1"/>
<line x1="601.00" y1="289.33" x2="602.5" y2="289.33" stroke="#606060" stroke-width="1"/>
<line x1="601.00" y1="287.52" x2="602.5" y2="287.52" stroke="#606060" stroke-width="1"/>
<line x1="601.00" y1="285.93" x2="602.5" y2="285.93" stroke="#606060" stroke-width="1"/>
<line x1="600.30" y1="284.50" x2="602.5" y2="284.50" stroke="#606060" stroke-width="1"/>
<line x1="612.19" y1="440.5" x2="612.19" y2="442.00" stroke="#606060" stroke-width="1"/>
<line x1="618.26" y1="440.5" x2="618.26" y2="442.00" stroke="#606060" stroke-width="1"/>
<line x1="622.57" y1="440.5" x2="622.57" y2="442.00" stroke="#606060" stroke-width="1"/>
<line x1="625.91" y1="440.5" x2="625.91" y2="442.00" stroke="#606060" stroke-width="1"/>
<line x1="628.65" y1="440.5" x2="628.65" y2="442.00" stroke="#606060" stroke-width="1"/>
<line x1="630.96" y1="440.5" x2="630.96" y2="442.00" stroke="#606060" stroke-width="1"/>
<line x1="632.96" y1="440.5" x2="632.96" y2="442.00" stroke="#606060" stroke-width="1"/>
<line x1="634.72" y1="440.5" x2="634.72" y2="442.00" stroke="#606060" stroke-width="1"/>
<line x1="636.30" y1="440.5" x2="636.30" y2="442.70" stroke="#606060" stroke-width="1"/>
<line x1="646.69" y1="440.5" x2="646.69" y2="442.00" stroke="#606060" stroke-width="1"/>
<line x1="652.76" y1="440.5" x2="652.76" y2="442.00" stroke="#606060" stroke-width="1"/>
<line x1="657.07" y1="440.5" x2="657.07" y2="442.00" stroke="#606060" stroke-width="1"/>
<line x1="660.41" y1="440.5" x2="660.41" y2="442.00" stroke="#606060" stroke-width="1"/>
<line x1="663.15" y1="440.5" x2="663.15" y2="442.00" stroke="#606060" stroke-width="1"/>
<line x1="665.46" y1="440.5" x2="665.46" y2="442.00" stroke="#606060" stroke-width="1"/>
<line x1="667.46" y1="440.5" x2="667.46" y2="442.00" stroke="#606060" stroke-width="1"/>
<line x1="669.22" y1="440.5" x2="669.22" y2="442.00" stroke="#606060" stroke-width="1"/>
<line x1="670.80" y1="440.5" x2="670.80" y2="442.70" stroke="#606060" stroke-width="1"/>
<line x1="681.19" y1="440.5" x2="681.19" y2="442.00" stroke="#606060" stroke-width="1"/>
<line x1="687.26" y1="440.5" x2="687.26" y2="442.00" stroke="#606060" stroke-width="1"/>
<line x1="691.57" y1="440.5" x2="691.57" y2="442.00" stroke="#606060" stroke-width="1"/>
<line x1="694.91" y1="440.5" x2="694.91" y2="442.00" stroke="#606060" stroke-width="1"/>
<line x1="697.65" y1="440.5" x2="697.65" y2="442.00" stroke="#606060" stroke-width="1"/>
<line x1="699.96" y1="440.5" x2="699.96" y2="442.00" stroke="#606060" stroke-width="1"/>
<line x1="701.96" y1="440.5" x2="701.96" y2="442.00" stroke="#606060" stroke-width="1"/>
<line x1="703.72" y1="440.5" x2="703.72" y2="442.00" stroke="#606060" stroke-width="1"/>
<line x1="705.30" y1="440.5" x2="705.30" y2="442.70" stroke="#606060" stroke-width="1"/>
<line x1="715.69" y1="440.5" x2="715.69" y2="442.00" stroke="#606060" stroke-width="1"/>
<line x1="721.76" y1="440.5" x2="721.76" y2="442.00" stroke="#606060" stroke-width="1"/>
<line x1="726.07" y1="440.5" x2="726.07" y2="442.00" stroke="#606060" stroke-width="1"/>
<line x1="729.41" y1="440.5" x2="729.41" y2="442.00" stroke="#606060" stroke-width="1"/>
<line x1="732.15" y1="440.5" x2="732.15" y2="442.00" stroke="#606060" stroke-width="1"/>
<line x1="734.46" y1="440.5" x2="734.46" y2="442.00" stroke="#606060" stroke-width="1"/>
<line x1="736.46" y1="440.5" x2="736.46" y2="442.00" stroke="#606060" stroke-width="1"/>
<line x1="738.22" y1="440.5" x2="738.22" y2="442.00" stroke="#606060" stroke-width="1"/>
<line x1="739.80" y1="440.5" x2="739.80" y2="442.70" stroke="#606060" stroke-width="1"/>
<line x1="750.19" y1="440.5" x2="750.19" y2="442.00" stroke="#606060" stroke-width="1"/>
<line x1="756.26" y1="440.5" x2="756.26" y2="442.00" stroke="#606060" stroke-width="1"/>
<line x1="760.57" y1="440.5" x2="760.57" y2="442.00" stroke="#606060" stroke-width="1"/>
<line x1="763.91" y1="440.5" x2="763.91" y2="442.00" stroke="#606060" stroke-width="1"/>
<line x1="766.65" y1="440.5" x2="766.65" y2="442.00" stroke="#606060" stroke-width="1"/>
<line x1="768.96" y1="440.5" x2="768.96" y2="442.00" stroke="#606060" stroke-width="1"/>
<line x1="770.96" y1="440.5" x2="770.96" y2="442.00" stroke="#606060" stroke-width="1"/>
<line x1="772.72" y1="440.5" x2="772.72" y2="442.00" stroke="#606060" stroke-width="1"/>
<line x1="774.30" y1="440.5" x2="774.30" y2="442.70" stroke="#606060" stroke-width="1"/>
<line x1="784.69" y1="440.5" x2="784.69" y2="442.00" stroke="#606060" stroke-width="1"/>
<line x1="790.76" y1="440.5" x2="790.76" y2="442.00" stroke="#606060" stroke-width="1"/>
<line x1="795.07" y1="440.5" x2="795.07" y2="442.00" stroke="#606060" stroke-width="1"/>
<text x="190.10" y="203.8" text-anchor="middle" font-size="15">1</text>
<text x="223.70" y="203.8" text-anchor="middle" font-size="15">10</text>
<text x="257.30" y="203.8" text-anchor="middle" font-size="15">10<tspan dy="-4.8" font-size="10.5">2</tspan></text>
<text x="290.90" y="203.8" text-anchor="middle" font-size="15">10<tspan dy="-4.8" font-size="10.5">3</tspan></text>
<text x="324.50" y="203.8" text-anchor="middle" font-size="15">10<tspan dy="-4.8" font-size="10.5">4</tspan></text>
<text x="358.10" y="203.8" text-anchor="middle" font-size="15">10<tspan dy="-4.8" font-size="10.5">5</tspan></text>
<text x="391.70" y="203.8" text-anchor="middle" font-size="15">10<tspan dy="-4.8" font-size="10.5">6</tspan></text>
<text x="183.2" y="189.40" text-anchor="end" font-size="15">10<tspan dy="-4.8" font-size="10.5">−2</tspan></text>
<text x="183.2" y="156.46" text-anchor="end" font-size="15">10<tspan dy="-4.8" font-size="10.5">−1</tspan></text>
<text x="183.20" y="125.92" text-anchor="end" font-size="15">1</text>
<text x="183.20" y="97.78" text-anchor="end" font-size="15">10</text>
<text x="183.2" y="67.24" text-anchor="end" font-size="15">10<tspan dy="-4.8" font-size="10.5">2</tspan></text>
<text x="183.2" y="36.70" text-anchor="end" font-size="15">10<tspan dy="-4.8" font-size="10.5">3</tspan></text>
<text x="453.70" y="203.8" text-anchor="middle" font-size="15">1</text>
<text x="478.80" y="203.8" text-anchor="middle" font-size="15">10</text>
<text x="503.90" y="203.8" text-anchor="middle" font-size="15">10<tspan dy="-4.8" font-size="10.5">2</tspan></text>
<text x="529.00" y="203.8" text-anchor="middle" font-size="15">10<tspan dy="-4.8" font-size="10.5">3</tspan></text>
<text x="554.10" y="203.8" text-anchor="middle" font-size="15">10<tspan dy="-4.8" font-size="10.5">4</tspan></text>
<text x="579.20" y="203.8" text-anchor="middle" font-size="15">10<tspan dy="-4.8" font-size="10.5">5</tspan></text>
<text x="604.30" y="203.8" text-anchor="middle" font-size="15">10<tspan dy="-4.8" font-size="10.5">6</tspan></text>
<text x="629.40" y="203.8" text-anchor="middle" font-size="15">10<tspan dy="-4.8" font-size="10.5">7</tspan></text>
<text x="654.50" y="203.8" text-anchor="middle" font-size="15">10<tspan dy="-4.8" font-size="10.5">8</tspan></text>
<text x="443.0" y="189.00" text-anchor="end" font-size="15">10<tspan dy="-4.8" font-size="10.5">−1</tspan></text>
<text x="443.80" y="158.66" text-anchor="end" font-size="15">1</text>
<text x="443.80" y="128.32" text-anchor="end" font-size="15">10</text>
<text x="443.0" y="97.98" text-anchor="end" font-size="15">10<tspan dy="-4.8" font-size="10.5">2</tspan></text>
<text x="443.0" y="67.64" text-anchor="end" font-size="15">10<tspan dy="-4.8" font-size="10.5">3</tspan></text>
<text x="443.0" y="37.30" text-anchor="end" font-size="15">10<tspan dy="-4.8" font-size="10.5">4</tspan></text>
<text x="57.70" y="459.0" text-anchor="middle" font-size="15">10<tspan dy="-4.8" font-size="10.5">−1</tspan></text>
<text x="105.70" y="459.0" text-anchor="middle" font-size="15">1</text>
<text x="154.50" y="459.0" text-anchor="middle" font-size="15">10</text>
<text x="201.70" y="459.0" text-anchor="middle" font-size="15">10<tspan dy="-4.8" font-size="10.5">2</tspan></text>
<text x="249.70" y="459.0" text-anchor="middle" font-size="15">10<tspan dy="-4.8" font-size="10.5">3</tspan></text>
<text x="42.30" y="437.30" text-anchor="end" font-size="15">1</text>
<text x="42.30" y="389.70" text-anchor="end" font-size="15">10</text>
<text x="41.4" y="340.10" text-anchor="end" font-size="15">10<tspan dy="-4.8" font-size="10.5">2</tspan></text>
<text x="41.4" y="292.30" text-anchor="end" font-size="15">10<tspan dy="-4.8" font-size="10.5">3</tspan></text>
<text x="343.10" y="461.0" text-anchor="middle" font-size="15">1</text>
<text x="403.20" y="461.0" text-anchor="middle" font-size="15">10</text>
<text x="462.00" y="461.0" text-anchor="middle" font-size="15">10<tspan dy="-4.8" font-size="10.5">2</tspan></text>
<text x="520.80" y="461.0" text-anchor="middle" font-size="15">10<tspan dy="-4.8" font-size="10.5">3</tspan></text>
<text x="313.50" y="400.70" text-anchor="end" font-size="15">10</text>
<text x="313.5" y="346.20" text-anchor="end" font-size="15">10<tspan dy="-4.8" font-size="10.5">2</tspan></text>
<text x="313.5" y="291.70" text-anchor="end" font-size="15">10<tspan dy="-4.8" font-size="10.5">3</tspan></text>
<text x="601.80" y="460.5" text-anchor="middle" font-size="15">10<tspan dy="-4.8" font-size="10.5">−1</tspan></text>
<text x="636.30" y="460.5" text-anchor="middle" font-size="15">1</text>
<text x="670.80" y="460.5" text-anchor="middle" font-size="15">10</text>
<text x="705.30" y="460.5" text-anchor="middle" font-size="15">10<tspan dy="-4.8" font-size="10.5">2</tspan></text>
<text x="739.80" y="460.5" text-anchor="middle" font-size="15">10<tspan dy="-4.8" font-size="10.5">3</tspan></text>
<text x="774.30" y="460.5" text-anchor="middle" font-size="15">10<tspan dy="-4.8" font-size="10.5">4</tspan></text>
<text x="596.60" y="443.50" text-anchor="end" font-size="15">1</text>
<text x="596.60" y="412.30" text-anchor="end" font-size="15">10</text>
<text x="596.6" y="381.10" text-anchor="end" font-size="15">10<tspan dy="-4.8" font-size="10.5">2</tspan></text>
<text x="596.6" y="349.90" text-anchor="end" font-size="15">10<tspan dy="-4.8" font-size="10.5">3</tspan></text>
<text x="596.6" y="318.70" text-anchor="end" font-size="15">10<tspan dy="-4.8" font-size="10.5">4</tspan></text>
<text x="596.6" y="287.50" text-anchor="end" font-size="15">10<tspan dy="-4.8" font-size="10.5">5</tspan></text>
<text x="137.3" y="12.5" font-size="15">(<tspan font-style="italic">a</tspan>)</text>
<text x="0.5" y="267" font-size="15">(<tspan font-style="italic">b</tspan>)</text>
<text x="552.2" y="264.7" font-size="15">(<tspan font-style="italic">c</tspan>)</text>
<text x="152.3" y="107.5" font-size="15" text-anchor="middle" transform="rotate(-90 152.3 107.5)">mean worker mass (mg)</text>
<text x="290.8" y="225.3" font-size="15" text-anchor="middle">colony mass (mg)</text>
<text x="413.9" y="108.0" font-size="15" text-anchor="middle" transform="rotate(-90 413.9 108.0)">queen mass (mg)</text>
<text x="553.3" y="225.3" font-size="15" text-anchor="middle">colony mass (mg)</text>
<text x="13.8" y="362.3" font-size="15" text-anchor="middle" transform="rotate(-90 13.8 362.3)">worker metabolic rate (μW)</text>
<text x="150.5" y="480.2" font-size="15" text-anchor="middle">worker mass (mg)</text>
<text x="282.8" y="362.3" font-size="15" text-anchor="middle" transform="rotate(-90 282.8 362.3)">queen metabolic rate (μW)</text>
<text x="419.3" y="479.5" font-size="15" text-anchor="middle">queen mass (mg)</text>
<text x="565.0" y="361.0" font-size="15" text-anchor="middle" transform="rotate(-90 565.0 361.0)">colony metabolic rate (μW)</text>
<text x="700.0" y="479.8" font-size="15" text-anchor="middle">colony mass (mg)</text>
<text x="282.2" y="151.6" font-size="15" font-style="italic">M</text>
<text x="295.4" y="156.3" font-size="10.5">W</text>
<text x="307.3" y="152.8" font-size="15">=</text>
<text x="317.4" y="151.6" font-size="15">0.08</text>
<text x="343.0" y="151.6" font-size="15" font-style="italic">M</text>
<text x="356.6" y="156.6" font-size="10.5">C</text>
<text x="358.3" y="147.3" font-size="10.5">0.49</text>
<text x="282.2" y="175.3" font-size="15" font-style="italic">N</text>
<text x="293.6" y="175.6" font-size="15">=</text>
<text x="304.9" y="175.3" font-size="15">107;</text>
<text x="335.6" y="175.3" font-size="15" font-style="italic">r</text>
<text x="341.3" y="169.4" font-size="10.5">2</text>
<text x="349.3" y="175.6" font-size="15">=</text>
<text x="360.7" y="175.3" font-size="15">0.62</text>
<text x="541.0" y="151.4" font-size="15" font-style="italic">M</text>
<text x="553.3" y="156.4" font-size="10.5">Q</text>
<text x="563.0" y="152.6" font-size="15">=</text>
<text x="574.0" y="151.4" font-size="15">0.42</text>
<text x="598.8" y="151.4" font-size="15" font-style="italic">M</text>
<text x="612.6" y="156.4" font-size="10.5">C</text>
<text x="614.1" y="147.6" font-size="10.5">0.53</text>
<text x="541.0" y="175.2" font-size="15" font-style="italic">N</text>
<text x="552.3" y="175.5" font-size="15">=</text>
<text x="563.3" y="175.2" font-size="15">114;</text>
<text x="594.1" y="175.2" font-size="15" font-style="italic">r</text>
<text x="599.7" y="169.3" font-size="10.5">2</text>
<text x="607.7" y="175.5" font-size="15">=</text>
<text x="619.5" y="175.2" font-size="15">0.69</text>
<text x="147.5" y="404.7" font-size="15" font-style="italic">B</text>
<text x="156.8" y="409.5" font-size="10.5">W</text>
<text x="168.6" y="405.9" font-size="15">=</text>
<text x="179.5" y="404.7" font-size="15">6.76</text>
<text x="205.1" y="404.7" font-size="15" font-style="italic">M</text>
<text x="219.0" y="409.2" font-size="10.5">W</text>
<text x="219.1" y="399.9" font-size="10.5">0.69</text>
<text x="147.5" y="430.4" font-size="15" font-style="italic">N</text>
<text x="159.3" y="430.7" font-size="15">=</text>
<text x="170.3" y="430.4" font-size="15">55;</text>
<text x="193.5" y="430.4" font-size="15" font-style="italic">r</text>
<text x="199.1" y="424.5" font-size="10.5">2</text>
<text x="207.2" y="430.7" font-size="15">=</text>
<text x="218.1" y="430.4" font-size="15">0.80</text>
<text x="411.3" y="408.6" font-size="15" font-style="italic">B</text>
<text x="419.6" y="413.1" font-size="10.5">Q</text>
<text x="430.1" y="409.8" font-size="15">=</text>
<text x="440.6" y="408.6" font-size="15">5.16</text>
<text x="466.0" y="408.6" font-size="15" font-style="italic">M</text>
<text x="479.5" y="413.3" font-size="10.5">Q</text>
<text x="479.9" y="403.6" font-size="10.5">0.76</text>
<text x="411.3" y="433.2" font-size="15" font-style="italic">N</text>
<text x="423.1" y="433.5" font-size="15">=</text>
<text x="433.6" y="433.2" font-size="15">29;</text>
<text x="457.6" y="433.2" font-size="15" font-style="italic">r</text>
<text x="463.2" y="427.3" font-size="10.5">2</text>
<text x="471.2" y="433.5" font-size="15">=</text>
<text x="482.6" y="433.2" font-size="15">0.86</text>
<text x="697.7" y="408.6" font-size="15" font-style="italic">B</text>
<text x="706.7" y="413.6" font-size="10.5">C</text>
<text x="717.6" y="409.8" font-size="15">=</text>
<text x="730.3" y="408.6" font-size="15">9.94</text>
<text x="755.1" y="408.6" font-size="15" font-style="italic">M</text>
<text x="768.6" y="413.6" font-size="10.5">C</text>
<text x="769.6" y="404.6" font-size="10.5">0.81</text>
<text x="696.0" y="427.3" font-size="15" font-style="italic">N</text>
<text x="709.3" y="427.6" font-size="15">=</text>
<text x="721.6" y="427.3" font-size="15">33;</text>
<text x="745.0" y="427.3" font-size="15" font-style="italic">r</text>
<text x="751.0" y="421.4" font-size="10.5">2</text>
<text x="760.4" y="427.6" font-size="15">=</text>
<text x="773.8" y="427.3" font-size="15">0.97</text>
<g stroke="#2a2a2a" stroke-width="1.05" fill="none">
<line x1="197.4" y1="153.9" x2="381.8" y2="70.9"/>
<line x1="458.8" y1="162.3" x2="649.6" y2="39.3"/>
<line x1="57.1" y1="426.9" x2="215.6" y2="318.7"/>
<line x1="333.4" y1="417.7" x2="512.7" y2="301.3"/>
<line x1="615.0" y1="426.5" x2="795.2" y2="290.5"/>
<line x1="615.0" y1="421.8" x2="787.7" y2="285.2" stroke-dasharray="11.5 4.5" stroke="#4a4a4a" stroke-width="0.95"/>
</g>

<circle cx="197.4" cy="158.4" r="3.0" fill="#161616"/>
<circle cx="204.6" cy="160.2" r="3.0" fill="#161616"/>
<circle cx="208.8" cy="147.8" r="3.0" fill="#161616"/>
<circle cx="214" cy="156.4" r="3.0" fill="#161616"/>
<circle cx="216.8" cy="152.2" r="3.0" fill="#161616"/>
<circle cx="220.5" cy="150.2" r="3.0" fill="#161616"/>
<circle cx="223.8" cy="146.7" r="3.0" fill="#161616"/>
<circle cx="223.6" cy="155.6" r="3.0" fill="#161616"/>
<circle cx="226.7" cy="155" r="3.0" fill="#161616"/>
<circle cx="231" cy="148.8" r="3.0" fill="#161616"/>
<circle cx="226.7" cy="181.4" r="3.0" fill="#161616"/>
<circle cx="237.8" cy="145" r="3.0" fill="#161616"/>
<circle cx="220.9" cy="132.2" r="3.0" fill="#161616"/>
<circle cx="219.8" cy="136.9" r="3.0" fill="#161616"/>
<circle cx="220.6" cy="140.2" r="3.0" fill="#161616"/>
<circle cx="228.1" cy="128.6" r="3.0" fill="#161616"/>
<circle cx="233.2" cy="130.4" r="3.0" fill="#161616"/>
<circle cx="236.8" cy="131.5" r="3.0" fill="#161616"/>
<circle cx="239.7" cy="132.2" r="3.0" fill="#161616"/>
<circle cx="243.3" cy="127.2" r="3.0" fill="#161616"/>
<circle cx="243" cy="138.8" r="3.0" fill="#161616"/>
<circle cx="227.4" cy="135.8" r="3.0" fill="#161616"/>
<circle cx="223.1" cy="137.3" r="3.0" fill="#161616"/>
<circle cx="235.4" cy="136.6" r="3.0" fill="#161616"/>
<circle cx="237.5" cy="140.9" r="3.0" fill="#161616"/>
<circle cx="232.5" cy="143.8" r="3.0" fill="#161616"/>
<circle cx="226.7" cy="143.1" r="3.0" fill="#161616"/>
<circle cx="228.3" cy="112.4" r="3.0" fill="#161616"/>
<circle cx="230.4" cy="122.1" r="3.0" fill="#161616"/>
<circle cx="246.9" cy="141.6" r="3.0" fill="#161616"/>
<circle cx="249" cy="136.2" r="3.0" fill="#161616"/>
<circle cx="261.8" cy="138.3" r="3.0" fill="#161616"/>
<circle cx="266.3" cy="144.5" r="3.0" fill="#161616"/>
<circle cx="256.4" cy="143.3" r="3.0" fill="#161616"/>
<circle cx="253.9" cy="147.8" r="3.0" fill="#161616"/>
<circle cx="254.2" cy="115.2" r="3.0" fill="#161616"/>
<circle cx="253.9" cy="110.8" r="3.0" fill="#161616"/>
<circle cx="245.2" cy="117.3" r="3.0" fill="#161616"/>
<circle cx="241.5" cy="119.8" r="3.0" fill="#161616"/>
<circle cx="260.1" cy="120.4" r="3.0" fill="#161616"/>
<circle cx="264.8" cy="117.8" r="3.0" fill="#161616"/>
<circle cx="252.6" cy="122.7" r="3.0" fill="#161616"/>
<circle cx="247.7" cy="124.8" r="3.0" fill="#161616"/>
<circle cx="243.6" cy="126.6" r="3.0" fill="#161616"/>
<circle cx="250.3" cy="128.1" r="3.0" fill="#161616"/>
<circle cx="249.8" cy="132.8" r="3.0" fill="#161616"/>
<circle cx="268.6" cy="130" r="3.0" fill="#161616"/>
<circle cx="271.5" cy="130.2" r="3.0" fill="#161616"/>
<circle cx="273.5" cy="115.3" r="3.0" fill="#161616"/>
<circle cx="277.2" cy="117.8" r="3.0" fill="#161616"/>
<circle cx="282.3" cy="117.8" r="3.0" fill="#161616"/>
<circle cx="275.6" cy="112" r="3.0" fill="#161616"/>
<circle cx="271" cy="110" r="3.0" fill="#161616"/>
<circle cx="301" cy="116.5" r="3.0" fill="#161616"/>
<circle cx="307.2" cy="109.2" r="3.0" fill="#161616"/>
<circle cx="249.8" cy="105" r="3.0" fill="#161616"/>
<circle cx="257" cy="104.5" r="3.0" fill="#161616"/>
<circle cx="259.6" cy="106" r="3.0" fill="#161616"/>
<circle cx="278.2" cy="108.1" r="3.0" fill="#161616"/>
<circle cx="281.3" cy="106" r="3.0" fill="#161616"/>
<circle cx="285.2" cy="104.2" r="3.0" fill="#161616"/>
<circle cx="287.5" cy="105.5" r="3.0" fill="#161616"/>
<circle cx="282.3" cy="109.6" r="3.0" fill="#161616"/>
<circle cx="297" cy="104.4" r="3.0" fill="#161616"/>
<circle cx="310.5" cy="70.8" r="3.0" fill="#161616"/>
<circle cx="298.1" cy="75.5" r="3.0" fill="#161616"/>
<circle cx="316.1" cy="78.1" r="3.0" fill="#161616"/>
<circle cx="314.1" cy="84" r="3.0" fill="#161616"/>
<circle cx="325.4" cy="89.4" r="3.0" fill="#161616"/>
<circle cx="288.5" cy="91.5" r="3.0" fill="#161616"/>
<circle cx="292" cy="91" r="3.0" fill="#161616"/>
<circle cx="295.5" cy="89.5" r="3.0" fill="#161616"/>
<circle cx="320.8" cy="95.6" r="3.0" fill="#161616"/>
<circle cx="307.4" cy="98.7" r="3.0" fill="#161616"/>
<circle cx="309.4" cy="97.4" r="3.0" fill="#161616"/>
<circle cx="301.2" cy="99.8" r="3.0" fill="#161616"/>
<circle cx="299.1" cy="101.8" r="3.0" fill="#161616"/>
<circle cx="326" cy="105.6" r="3.0" fill="#161616"/>
<circle cx="377.8" cy="44.2" r="3.0" fill="#161616"/>
<circle cx="354.7" cy="82.3" r="3.0" fill="#161616"/>
<circle cx="315.5" cy="115.4" r="3.0" fill="#161616"/>
<circle cx="314.9" cy="122.8" r="3.0" fill="#161616"/>
<circle cx="317.4" cy="130.9" r="3.0" fill="#161616"/>
<circle cx="344" cy="108.8" r="3.0" fill="#161616"/>
<circle cx="350.2" cy="103.4" r="3.0" fill="#161616"/>
<circle cx="378.1" cy="102.1" r="3.0" fill="#161616"/>
<circle cx="381.2" cy="112.3" r="3.0" fill="#161616"/>
<circle cx="240" cy="136.5" r="3.0" fill="#161616"/>
<circle cx="234.5" cy="129.5" r="3.0" fill="#161616"/>
<circle cx="236.8" cy="143.5" r="3.0" fill="#161616"/>
<circle cx="221" cy="153.2" r="3.0" fill="#161616"/>
<circle cx="225" cy="152.2" r="3.0" fill="#161616"/>
<circle cx="218.5" cy="155.5" r="3.0" fill="#161616"/>
<circle cx="221.5" cy="144.5" r="3.0" fill="#161616"/>
<circle cx="481.4" cy="123.5" r="2.85" fill="#d2d2d2" stroke="#222" stroke-width="1.1"/>
<circle cx="488.8" cy="124.5" r="2.85" fill="#d2d2d2" stroke="#222" stroke-width="1.1"/>
<circle cx="497.8" cy="121.0" r="2.85" fill="#d2d2d2" stroke="#222" stroke-width="1.1"/>
<circle cx="471.9" cy="138.2" r="2.85" fill="#d2d2d2" stroke="#222" stroke-width="1.1"/>
<circle cx="483.9" cy="135.2" r="2.85" fill="#d2d2d2" stroke="#222" stroke-width="1.1"/>
<circle cx="488.0" cy="138.9" r="2.85" fill="#d2d2d2" stroke="#222" stroke-width="1.1"/>
<circle cx="495.5" cy="126.6" r="2.85" fill="#d2d2d2" stroke="#222" stroke-width="1.1"/>
<circle cx="500.4" cy="125.8" r="2.85" fill="#d2d2d2" stroke="#222" stroke-width="1.1"/>
<circle cx="500.9" cy="130.7" r="2.85" fill="#d2d2d2" stroke="#222" stroke-width="1.1"/>
<circle cx="494.6" cy="137.7" r="2.85" fill="#d2d2d2" stroke="#222" stroke-width="1.1"/>
<circle cx="499.5" cy="135.2" r="2.85" fill="#d2d2d2" stroke="#222" stroke-width="1.1"/>
<circle cx="463.8" cy="155.4" r="2.85" fill="#d2d2d2" stroke="#222" stroke-width="1.1"/>
<circle cx="458.8" cy="167.1" r="2.85" fill="#d2d2d2" stroke="#222" stroke-width="1.1"/>
<circle cx="475.2" cy="152.8" r="2.85" fill="#d2d2d2" stroke="#222" stroke-width="1.1"/>
<circle cx="477.5" cy="149.7" r="2.85" fill="#d2d2d2" stroke="#222" stroke-width="1.1"/>
<circle cx="483.7" cy="149.1" r="2.85" fill="#d2d2d2" stroke="#222" stroke-width="1.1"/>
<circle cx="488.4" cy="147.0" r="2.85" fill="#d2d2d2" stroke="#222" stroke-width="1.1"/>
<circle cx="490.5" cy="143.6" r="2.85" fill="#d2d2d2" stroke="#222" stroke-width="1.1"/>
<circle cx="493.3" cy="143.0" r="2.85" fill="#d2d2d2" stroke="#222" stroke-width="1.1"/>
<circle cx="498.2" cy="141.1" r="2.85" fill="#d2d2d2" stroke="#222" stroke-width="1.1"/>
<circle cx="498.7" cy="146.1" r="2.85" fill="#d2d2d2" stroke="#222" stroke-width="1.1"/>
<circle cx="495.0" cy="148.2" r="2.85" fill="#d2d2d2" stroke="#222" stroke-width="1.1"/>
<circle cx="492.0" cy="151.8" r="2.85" fill="#d2d2d2" stroke="#222" stroke-width="1.1"/>
<circle cx="485.4" cy="153.4" r="2.85" fill="#d2d2d2" stroke="#222" stroke-width="1.1"/>
<circle cx="481.7" cy="155.8" r="2.85" fill="#d2d2d2" stroke="#222" stroke-width="1.1"/>
<circle cx="488.9" cy="154.9" r="2.85" fill="#d2d2d2" stroke="#222" stroke-width="1.1"/>
<circle cx="474.1" cy="159.4" r="2.85" fill="#d2d2d2" stroke="#222" stroke-width="1.1"/>
<circle cx="478.9" cy="159.3" r="2.85" fill="#d2d2d2" stroke="#222" stroke-width="1.1"/>
<circle cx="486.7" cy="158.3" r="2.85" fill="#d2d2d2" stroke="#222" stroke-width="1.1"/>
<circle cx="488.4" cy="161.6" r="2.85" fill="#d2d2d2" stroke="#222" stroke-width="1.1"/>
<circle cx="475.4" cy="163.0" r="2.85" fill="#d2d2d2" stroke="#222" stroke-width="1.1"/>
<circle cx="476.8" cy="164.7" r="2.85" fill="#d2d2d2" stroke="#222" stroke-width="1.1"/>
<circle cx="480.0" cy="165.2" r="2.85" fill="#d2d2d2" stroke="#222" stroke-width="1.1"/>
<circle cx="488.7" cy="167.2" r="2.85" fill="#d2d2d2" stroke="#222" stroke-width="1.1"/>
<circle cx="466.9" cy="173.3" r="2.85" fill="#d2d2d2" stroke="#222" stroke-width="1.1"/>
<circle cx="471.2" cy="172.7" r="2.85" fill="#d2d2d2" stroke="#222" stroke-width="1.1"/>
<circle cx="477.4" cy="173.3" r="2.85" fill="#d2d2d2" stroke="#222" stroke-width="1.1"/>
<circle cx="502.9" cy="140.1" r="2.85" fill="#d2d2d2" stroke="#222" stroke-width="1.1"/>
<circle cx="490.1" cy="146.1" r="2.85" fill="#d2d2d2" stroke="#222" stroke-width="1.1"/>
<circle cx="504.9" cy="147.9" r="2.85" fill="#d2d2d2" stroke="#222" stroke-width="1.1"/>
<circle cx="480.6" cy="147.7" r="2.85" fill="#d2d2d2" stroke="#222" stroke-width="1.1"/>
<circle cx="481.3" cy="151.3" r="2.85" fill="#d2d2d2" stroke="#222" stroke-width="1.1"/>
<circle cx="486.0" cy="148.0" r="2.85" fill="#d2d2d2" stroke="#222" stroke-width="1.1"/>
<circle cx="495.2" cy="105.5" r="2.85" fill="#d2d2d2" stroke="#222" stroke-width="1.1"/>
<circle cx="502.9" cy="105.5" r="2.85" fill="#d2d2d2" stroke="#222" stroke-width="1.1"/>
<circle cx="504.5" cy="102.9" r="2.85" fill="#d2d2d2" stroke="#222" stroke-width="1.1"/>
<circle cx="511.7" cy="105.0" r="2.85" fill="#d2d2d2" stroke="#222" stroke-width="1.1"/>
<circle cx="513.8" cy="109.1" r="2.85" fill="#d2d2d2" stroke="#222" stroke-width="1.1"/>
<circle cx="520.0" cy="100.8" r="2.85" fill="#d2d2d2" stroke="#222" stroke-width="1.1"/>
<circle cx="521.0" cy="108.6" r="2.85" fill="#d2d2d2" stroke="#222" stroke-width="1.1"/>
<circle cx="525.6" cy="107.6" r="2.85" fill="#d2d2d2" stroke="#222" stroke-width="1.1"/>
<circle cx="530.8" cy="110.1" r="2.85" fill="#d2d2d2" stroke="#222" stroke-width="1.1"/>
<circle cx="526.7" cy="113.8" r="2.85" fill="#d2d2d2" stroke="#222" stroke-width="1.1"/>
<circle cx="521.5" cy="115.8" r="2.85" fill="#d2d2d2" stroke="#222" stroke-width="1.1"/>
<circle cx="535.0" cy="104.7" r="2.85" fill="#d2d2d2" stroke="#222" stroke-width="1.1"/>
<circle cx="539.0" cy="109.2" r="2.85" fill="#d2d2d2" stroke="#222" stroke-width="1.1"/>
<circle cx="531.8" cy="117.9" r="2.85" fill="#d2d2d2" stroke="#222" stroke-width="1.1"/>
<circle cx="533.9" cy="121.0" r="2.85" fill="#d2d2d2" stroke="#222" stroke-width="1.1"/>
<circle cx="535.8" cy="125.5" r="2.85" fill="#d2d2d2" stroke="#222" stroke-width="1.1"/>
<circle cx="533.0" cy="129.4" r="2.85" fill="#d2d2d2" stroke="#222" stroke-width="1.1"/>
<circle cx="517.9" cy="121.5" r="2.85" fill="#d2d2d2" stroke="#222" stroke-width="1.1"/>
<circle cx="514.1" cy="126.9" r="2.85" fill="#d2d2d2" stroke="#222" stroke-width="1.1"/>
<circle cx="519.0" cy="129.4" r="2.85" fill="#d2d2d2" stroke="#222" stroke-width="1.1"/>
<circle cx="509.0" cy="128.4" r="2.85" fill="#d2d2d2" stroke="#222" stroke-width="1.1"/>
<circle cx="507.0" cy="122.5" r="2.85" fill="#d2d2d2" stroke="#222" stroke-width="1.1"/>
<circle cx="503.9" cy="126.2" r="2.85" fill="#d2d2d2" stroke="#222" stroke-width="1.1"/>
<circle cx="496.7" cy="131.3" r="2.85" fill="#d2d2d2" stroke="#222" stroke-width="1.1"/>
<circle cx="524.9" cy="92.1" r="2.85" fill="#d2d2d2" stroke="#222" stroke-width="1.1"/>
<circle cx="529.5" cy="92.9" r="2.85" fill="#d2d2d2" stroke="#222" stroke-width="1.1"/>
<circle cx="536.0" cy="94.4" r="2.85" fill="#d2d2d2" stroke="#222" stroke-width="1.1"/>
<circle cx="548.8" cy="55.1" r="2.85" fill="#d2d2d2" stroke="#222" stroke-width="1.1"/>
<circle cx="547.5" cy="69.4" r="2.85" fill="#d2d2d2" stroke="#222" stroke-width="1.1"/>
<circle cx="545.8" cy="83.1" r="2.85" fill="#d2d2d2" stroke="#222" stroke-width="1.1"/>
<circle cx="541.7" cy="89.0" r="2.85" fill="#d2d2d2" stroke="#222" stroke-width="1.1"/>
<circle cx="543.6" cy="89.0" r="2.85" fill="#d2d2d2" stroke="#222" stroke-width="1.1"/>
<circle cx="524.3" cy="88.3" r="2.85" fill="#d2d2d2" stroke="#222" stroke-width="1.1"/>
<circle cx="542.0" cy="96.3" r="2.85" fill="#d2d2d2" stroke="#222" stroke-width="1.1"/>
<circle cx="546.5" cy="98.4" r="2.85" fill="#d2d2d2" stroke="#222" stroke-width="1.1"/>
<circle cx="554.7" cy="96.0" r="2.85" fill="#d2d2d2" stroke="#222" stroke-width="1.1"/>
<circle cx="568.3" cy="95.8" r="2.85" fill="#d2d2d2" stroke="#222" stroke-width="1.1"/>
<circle cx="576.6" cy="89.7" r="2.85" fill="#d2d2d2" stroke="#222" stroke-width="1.1"/>
<circle cx="540.6" cy="98.6" r="2.85" fill="#d2d2d2" stroke="#222" stroke-width="1.1"/>
<circle cx="546.8" cy="112.9" r="2.85" fill="#d2d2d2" stroke="#222" stroke-width="1.1"/>
<circle cx="551.1" cy="112.9" r="2.85" fill="#d2d2d2" stroke="#222" stroke-width="1.1"/>
<circle cx="555.1" cy="118.2" r="2.85" fill="#d2d2d2" stroke="#222" stroke-width="1.1"/>
<circle cx="572.8" cy="125.7" r="2.85" fill="#d2d2d2" stroke="#222" stroke-width="1.1"/>
<circle cx="593.7" cy="51.2" r="2.85" fill="#d2d2d2" stroke="#222" stroke-width="1.1"/>
<circle cx="596.6" cy="60.8" r="2.85" fill="#d2d2d2" stroke="#222" stroke-width="1.1"/>
<circle cx="593.7" cy="69.4" r="2.85" fill="#d2d2d2" stroke="#222" stroke-width="1.1"/>
<circle cx="649.2" cy="60.5" r="2.85" fill="#d2d2d2" stroke="#222" stroke-width="1.1"/>
<circle cx="635.7" cy="78.1" r="2.85" fill="#d2d2d2" stroke="#222" stroke-width="1.1"/>
<circle cx="607.9" cy="88.5" r="2.85" fill="#d2d2d2" stroke="#222" stroke-width="1.1"/>
<circle cx="624.8" cy="91.9" r="2.85" fill="#d2d2d2" stroke="#222" stroke-width="1.1"/>
<circle cx="496.4" cy="129.1" r="2.85" fill="#d2d2d2" stroke="#222" stroke-width="1.1"/>
<circle cx="487.1" cy="149.8" r="2.85" fill="#d2d2d2" stroke="#222" stroke-width="1.1"/>
<circle cx="510.3" cy="144.6" r="2.85" fill="#d2d2d2" stroke="#222" stroke-width="1.1"/>
<circle cx="515.8" cy="145.7" r="2.85" fill="#d2d2d2" stroke="#222" stroke-width="1.1"/>
<circle cx="536.3" cy="146.0" r="2.85" fill="#d2d2d2" stroke="#222" stroke-width="1.1"/>
<circle cx="57.1" cy="426.9" r="3.0" fill="#161616"/>
<circle cx="74.2" cy="407.6" r="3.0" fill="#161616"/>
<circle cx="83.1" cy="403.4" r="3.0" fill="#161616"/>
<circle cx="90.2" cy="414.1" r="3.0" fill="#161616"/>
<circle cx="76.1" cy="430.4" r="3.0" fill="#161616"/>
<circle cx="84.4" cy="400.4" r="3.0" fill="#161616"/>
<circle cx="84.2" cy="398.1" r="3.0" fill="#161616"/>
<circle cx="94.4" cy="381.8" r="3.0" fill="#161616"/>
<circle cx="103.2" cy="383.0" r="3.0" fill="#161616"/>
<circle cx="120.1" cy="384.1" r="3.0" fill="#161616"/>
<circle cx="109.8" cy="387.7" r="3.0" fill="#161616"/>
<circle cx="104.3" cy="392.2" r="3.0" fill="#161616"/>
<circle cx="112.4" cy="394.9" r="3.0" fill="#161616"/>
<circle cx="112.4" cy="398.1" r="3.0" fill="#161616"/>
<circle cx="116.4" cy="398.1" r="3.0" fill="#161616"/>
<circle cx="121.2" cy="393.7" r="3.0" fill="#161616"/>
<circle cx="127.9" cy="392.7" r="3.0" fill="#161616"/>
<circle cx="128.5" cy="375.7" r="3.0" fill="#161616"/>
<circle cx="108.1" cy="413.6" r="3.0" fill="#161616"/>
<circle cx="113.1" cy="407.2" r="3.0" fill="#161616"/>
<circle cx="137.6" cy="339.7" r="3.0" fill="#161616"/>
<circle cx="137.0" cy="346.7" r="3.0" fill="#161616"/>
<circle cx="111.6" cy="360.4" r="3.0" fill="#161616"/>
<circle cx="110.7" cy="370.3" r="3.0" fill="#161616"/>
<circle cx="134.5" cy="367.4" r="3.0" fill="#161616"/>
<circle cx="128.3" cy="371.2" r="3.0" fill="#161616"/>
<circle cx="129.6" cy="374.0" r="3.0" fill="#161616"/>
<circle cx="133.9" cy="379.4" r="3.0" fill="#161616"/>
<circle cx="136.5" cy="380.0" r="3.0" fill="#161616"/>
<circle cx="138.6" cy="376.8" r="3.0" fill="#161616"/>
<circle cx="167.4" cy="332.2" r="3.0" fill="#161616"/>
<circle cx="162.7" cy="340.8" r="3.0" fill="#161616"/>
<circle cx="150.4" cy="348.8" r="3.0" fill="#161616"/>
<circle cx="162.2" cy="350.0" r="3.0" fill="#161616"/>
<circle cx="155.4" cy="354.6" r="3.0" fill="#161616"/>
<circle cx="158.3" cy="355.7" r="3.0" fill="#161616"/>
<circle cx="161.9" cy="357.5" r="3.0" fill="#161616"/>
<circle cx="156.9" cy="363.3" r="3.0" fill="#161616"/>
<circle cx="161.9" cy="364.7" r="3.0" fill="#161616"/>
<circle cx="143.1" cy="364.4" r="3.0" fill="#161616"/>
<circle cx="151.5" cy="368.8" r="3.0" fill="#161616"/>
<circle cx="131.6" cy="377.0" r="3.0" fill="#161616"/>
<circle cx="146.0" cy="376.3" r="3.0" fill="#161616"/>
<circle cx="148.9" cy="379.2" r="3.0" fill="#161616"/>
<circle cx="142.4" cy="385.7" r="3.0" fill="#161616"/>
<circle cx="139.5" cy="390.7" r="3.0" fill="#161616"/>
<circle cx="183.6" cy="340.8" r="3.0" fill="#161616"/>
<circle cx="183.4" cy="344.6" r="3.0" fill="#161616"/>
<circle cx="184.2" cy="349.4" r="3.0" fill="#161616"/>
<circle cx="180.8" cy="349.7" r="3.0" fill="#161616"/>
<circle cx="179.3" cy="356.0" r="3.0" fill="#161616"/>
<circle cx="215.4" cy="305.1" r="3.0" fill="#161616"/>
<circle cx="203.4" cy="327.9" r="3.0" fill="#161616"/>
<circle cx="183.1" cy="327.5" r="3.0" fill="#161616"/>
<circle cx="333.4" cy="417.7" r="2.85" fill="#c6c6c6" stroke="#484848" stroke-width="1.0"/>
<circle cx="343.8" cy="419.6" r="2.85" fill="#c6c6c6" stroke="#484848" stroke-width="1.0"/>
<circle cx="353.3" cy="419.6" r="2.85" fill="#c6c6c6" stroke="#484848" stroke-width="1.0"/>
<circle cx="354.3" cy="401" r="2.85" fill="#c6c6c6" stroke="#484848" stroke-width="1.0"/>
<circle cx="364.1" cy="384.7" r="2.85" fill="#c6c6c6" stroke="#484848" stroke-width="1.0"/>
<circle cx="367.4" cy="379.2" r="2.85" fill="#c6c6c6" stroke="#484848" stroke-width="1.0"/>
<circle cx="381.5" cy="380.9" r="2.85" fill="#c6c6c6" stroke="#484848" stroke-width="1.0"/>
<circle cx="382.7" cy="376.4" r="2.85" fill="#c6c6c6" stroke="#484848" stroke-width="1.0"/>
<circle cx="393.3" cy="382.1" r="2.85" fill="#c6c6c6" stroke="#484848" stroke-width="1.0"/>
<circle cx="397.8" cy="376.8" r="2.85" fill="#c6c6c6" stroke="#484848" stroke-width="1.0"/>
<circle cx="399.3" cy="369.8" r="2.85" fill="#c6c6c6" stroke="#484848" stroke-width="1.0"/>
<circle cx="403.3" cy="363.9" r="2.85" fill="#c6c6c6" stroke="#484848" stroke-width="1.0"/>
<circle cx="411" cy="372.7" r="2.85" fill="#c6c6c6" stroke="#484848" stroke-width="1.0"/>
<circle cx="413.7" cy="379" r="2.85" fill="#c6c6c6" stroke="#484848" stroke-width="1.0"/>
<circle cx="411.9" cy="384.5" r="2.85" fill="#c6c6c6" stroke="#484848" stroke-width="1.0"/>
<circle cx="403.8" cy="389" r="2.85" fill="#c6c6c6" stroke="#484848" stroke-width="1.0"/>
<circle cx="420" cy="373.5" r="2.85" fill="#c6c6c6" stroke="#484848" stroke-width="1.0"/>
<circle cx="414.6" cy="360" r="2.85" fill="#c6c6c6" stroke="#484848" stroke-width="1.0"/>
<circle cx="423.6" cy="362" r="2.85" fill="#c6c6c6" stroke="#484848" stroke-width="1.0"/>
<circle cx="431.4" cy="347" r="2.85" fill="#c6c6c6" stroke="#484848" stroke-width="1.0"/>
<circle cx="432.3" cy="319.2" r="2.85" fill="#c6c6c6" stroke="#484848" stroke-width="1.0"/>
<circle cx="433.7" cy="338.8" r="2.85" fill="#c6c6c6" stroke="#484848" stroke-width="1.0"/>
<circle cx="436.2" cy="343.1" r="2.85" fill="#c6c6c6" stroke="#484848" stroke-width="1.0"/>
<circle cx="463.8" cy="343.1" r="2.85" fill="#c6c6c6" stroke="#484848" stroke-width="1.0"/>
<circle cx="485.2" cy="319.2" r="2.85" fill="#c6c6c6" stroke="#484848" stroke-width="1.0"/>
<circle cx="436.6" cy="359" r="2.85" fill="#c6c6c6" stroke="#484848" stroke-width="1.0"/>
<circle cx="438.8" cy="367.3" r="2.85" fill="#c6c6c6" stroke="#484848" stroke-width="1.0"/>
<circle cx="506.9" cy="288.7" r="2.85" fill="#c6c6c6" stroke="#484848" stroke-width="1.0"/>
<circle cx="513.1" cy="310.7" r="2.85" fill="#c6c6c6" stroke="#484848" stroke-width="1.0"/>
<circle cx="614.8" cy="422.3" r="3.0" fill="none" stroke="#1a1a1a" stroke-width="1.0"/>
<circle cx="636" cy="407.3" r="3.0" fill="none" stroke="#1a1a1a" stroke-width="1.0"/>
<circle cx="636" cy="412.8" r="3.0" fill="none" stroke="#1a1a1a" stroke-width="1.0"/>
<circle cx="639.3" cy="394.6" r="3.0" fill="none" stroke="#1a1a1a" stroke-width="1.0"/>
<circle cx="644.5" cy="396.9" r="3.0" fill="none" stroke="#1a1a1a" stroke-width="1.0"/>
<circle cx="641" cy="400.6" r="3.0" fill="none" stroke="#1a1a1a" stroke-width="1.0"/>
<circle cx="652.1" cy="398.6" r="3.0" fill="none" stroke="#1a1a1a" stroke-width="1.0"/>
<circle cx="658.2" cy="398.3" r="3.0" fill="none" stroke="#1a1a1a" stroke-width="1.0"/>
<circle cx="662.1" cy="391.1" r="3.0" fill="none" stroke="#1a1a1a" stroke-width="1.0"/>
<circle cx="663.4" cy="394.9" r="3.0" fill="none" stroke="#1a1a1a" stroke-width="1.0"/>
<circle cx="667.6" cy="391.1" r="3.0" fill="none" stroke="#1a1a1a" stroke-width="1.0"/>
<circle cx="667.1" cy="395.8" r="3.0" fill="none" stroke="#1a1a1a" stroke-width="1.0"/>
<circle cx="667.5" cy="384.6" r="3.0" fill="none" stroke="#1a1a1a" stroke-width="1.0"/>
<circle cx="672.7" cy="381.6" r="3.0" fill="none" stroke="#1a1a1a" stroke-width="1.0"/>
<circle cx="677.3" cy="381.4" r="3.0" fill="none" stroke="#1a1a1a" stroke-width="1.0"/>
<circle cx="677.4" cy="376.1" r="3.0" fill="none" stroke="#1a1a1a" stroke-width="1.0"/>
<circle cx="687.4" cy="371" r="3.0" fill="none" stroke="#1a1a1a" stroke-width="1.0"/>
<circle cx="695.6" cy="360" r="3.0" fill="none" stroke="#1a1a1a" stroke-width="1.0"/>
<circle cx="693.5" cy="376.9" r="3.0" fill="none" stroke="#1a1a1a" stroke-width="1.0"/>
<circle cx="693.5" cy="381.3" r="3.0" fill="none" stroke="#1a1a1a" stroke-width="1.0"/>
<circle cx="731.5" cy="333.2" r="3.0" fill="none" stroke="#1a1a1a" stroke-width="1.0"/>
<circle cx="724.3" cy="338.9" r="3.0" fill="none" stroke="#1a1a1a" stroke-width="1.0"/>
<circle cx="729.4" cy="339.9" r="3.0" fill="none" stroke="#1a1a1a" stroke-width="1.0"/>
<circle cx="728.4" cy="351.3" r="3.0" fill="none" stroke="#1a1a1a" stroke-width="1.0"/>
<circle cx="750" cy="329" r="3.0" fill="none" stroke="#1a1a1a" stroke-width="1.0"/>
<circle cx="750.6" cy="333.6" r="3.0" fill="none" stroke="#1a1a1a" stroke-width="1.0"/>
<circle cx="764.8" cy="309.7" r="3.0" fill="none" stroke="#1a1a1a" stroke-width="1.0"/>
<circle cx="774.1" cy="294.8" r="3.0" fill="none" stroke="#1a1a1a" stroke-width="1.0"/>
<circle cx="775.9" cy="298.6" r="3.0" fill="none" stroke="#1a1a1a" stroke-width="1.0"/>
<circle cx="796.8" cy="287.4" r="3.0" fill="none" stroke="#1a1a1a" stroke-width="1.0"/>
</svg></body></html>
